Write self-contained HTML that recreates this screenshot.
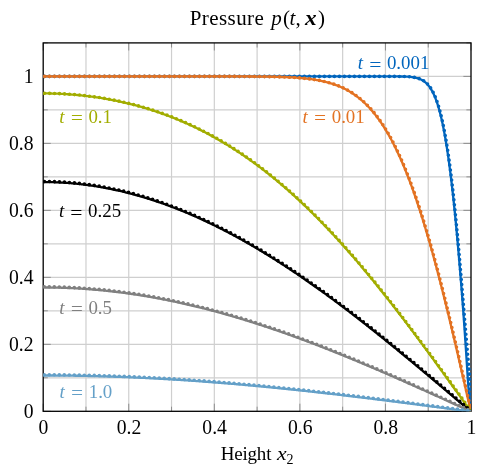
<!DOCTYPE html>
<html><head><meta charset="utf-8"><title>Pressure</title>
<style>
html,body{margin:0;padding:0;background:#fff;}
svg{display:block;will-change:transform;}
text{font-family:"Liberation Serif",serif;}
</style></head><body>
<svg width="485" height="474" viewBox="0 0 485 474">
<rect width="485" height="474" fill="#fff"/>
<g stroke="#cfcfcf" stroke-width="1.2"><line x1="85.98" y1="42.90" x2="85.98" y2="411.30"/><line x1="128.76" y1="42.90" x2="128.76" y2="411.30"/><line x1="171.54" y1="42.90" x2="171.54" y2="411.30"/><line x1="214.32" y1="42.90" x2="214.32" y2="411.30"/><line x1="257.10" y1="42.90" x2="257.10" y2="411.30"/><line x1="299.88" y1="42.90" x2="299.88" y2="411.30"/><line x1="342.66" y1="42.90" x2="342.66" y2="411.30"/><line x1="385.44" y1="42.90" x2="385.44" y2="411.30"/><line x1="428.22" y1="42.90" x2="428.22" y2="411.30"/><line x1="43.20" y1="377.81" x2="471.00" y2="377.81"/><line x1="43.20" y1="344.32" x2="471.00" y2="344.32"/><line x1="43.20" y1="310.83" x2="471.00" y2="310.83"/><line x1="43.20" y1="277.34" x2="471.00" y2="277.34"/><line x1="43.20" y1="243.85" x2="471.00" y2="243.85"/><line x1="43.20" y1="210.35" x2="471.00" y2="210.35"/><line x1="43.20" y1="176.86" x2="471.00" y2="176.86"/><line x1="43.20" y1="143.37" x2="471.00" y2="143.37"/><line x1="43.20" y1="109.88" x2="471.00" y2="109.88"/><line x1="43.20" y1="76.39" x2="471.00" y2="76.39"/></g>
<g stroke="#777" stroke-width="0.75"><line x1="43.20" y1="411.30" x2="43.20" y2="403.70"/><line x1="43.20" y1="42.90" x2="43.20" y2="50.50"/><line x1="85.98" y1="411.30" x2="85.98" y2="406.70"/><line x1="85.98" y1="42.90" x2="85.98" y2="47.50"/><line x1="128.76" y1="411.30" x2="128.76" y2="403.70"/><line x1="128.76" y1="42.90" x2="128.76" y2="50.50"/><line x1="171.54" y1="411.30" x2="171.54" y2="406.70"/><line x1="171.54" y1="42.90" x2="171.54" y2="47.50"/><line x1="214.32" y1="411.30" x2="214.32" y2="403.70"/><line x1="214.32" y1="42.90" x2="214.32" y2="50.50"/><line x1="257.10" y1="411.30" x2="257.10" y2="406.70"/><line x1="257.10" y1="42.90" x2="257.10" y2="47.50"/><line x1="299.88" y1="411.30" x2="299.88" y2="403.70"/><line x1="299.88" y1="42.90" x2="299.88" y2="50.50"/><line x1="342.66" y1="411.30" x2="342.66" y2="406.70"/><line x1="342.66" y1="42.90" x2="342.66" y2="47.50"/><line x1="385.44" y1="411.30" x2="385.44" y2="403.70"/><line x1="385.44" y1="42.90" x2="385.44" y2="50.50"/><line x1="428.22" y1="411.30" x2="428.22" y2="406.70"/><line x1="428.22" y1="42.90" x2="428.22" y2="47.50"/><line x1="471.00" y1="411.30" x2="471.00" y2="403.70"/><line x1="471.00" y1="42.90" x2="471.00" y2="50.50"/><line x1="43.20" y1="411.30" x2="50.80" y2="411.30"/><line x1="471.00" y1="411.30" x2="463.40" y2="411.30"/><line x1="43.20" y1="377.81" x2="47.80" y2="377.81"/><line x1="471.00" y1="377.81" x2="466.40" y2="377.81"/><line x1="43.20" y1="344.32" x2="50.80" y2="344.32"/><line x1="471.00" y1="344.32" x2="463.40" y2="344.32"/><line x1="43.20" y1="310.83" x2="47.80" y2="310.83"/><line x1="471.00" y1="310.83" x2="466.40" y2="310.83"/><line x1="43.20" y1="277.34" x2="50.80" y2="277.34"/><line x1="471.00" y1="277.34" x2="463.40" y2="277.34"/><line x1="43.20" y1="243.85" x2="47.80" y2="243.85"/><line x1="471.00" y1="243.85" x2="466.40" y2="243.85"/><line x1="43.20" y1="210.35" x2="50.80" y2="210.35"/><line x1="471.00" y1="210.35" x2="463.40" y2="210.35"/><line x1="43.20" y1="176.86" x2="47.80" y2="176.86"/><line x1="471.00" y1="176.86" x2="466.40" y2="176.86"/><line x1="43.20" y1="143.37" x2="50.80" y2="143.37"/><line x1="471.00" y1="143.37" x2="463.40" y2="143.37"/><line x1="43.20" y1="109.88" x2="47.80" y2="109.88"/><line x1="471.00" y1="109.88" x2="466.40" y2="109.88"/><line x1="43.20" y1="76.39" x2="50.80" y2="76.39"/><line x1="471.00" y1="76.39" x2="463.40" y2="76.39"/><line x1="43.20" y1="42.90" x2="47.80" y2="42.90"/><line x1="471.00" y1="42.90" x2="466.40" y2="42.90"/></g>
<rect x="43.20" y="42.90" width="427.80" height="368.40" fill="none" stroke="#000" stroke-width="1.3"/>
<defs><clipPath id="c"><rect x="43.20" y="42.90" width="427.80" height="368.40"/></clipPath></defs>
<g fill="none" stroke-linejoin="round" clip-path="url(#c)">
<path d="M42.90 76.39 L43.97 76.39 L45.04 76.39 L46.11 76.39 L47.18 76.39 L48.25 76.39 L49.32 76.39 L50.39 76.39 L51.46 76.39 L52.53 76.39 L53.59 76.39 L54.66 76.39 L55.73 76.39 L56.80 76.39 L57.87 76.39 L58.94 76.39 L60.01 76.39 L61.08 76.39 L62.15 76.39 L63.22 76.39 L64.29 76.39 L65.36 76.39 L66.43 76.39 L67.50 76.39 L68.57 76.39 L69.64 76.39 L70.71 76.39 L71.78 76.39 L72.85 76.39 L73.92 76.39 L74.98 76.39 L76.05 76.39 L77.12 76.39 L78.19 76.39 L79.26 76.39 L80.33 76.39 L81.40 76.39 L82.47 76.39 L83.54 76.39 L84.61 76.39 L85.68 76.39 L86.75 76.39 L87.82 76.39 L88.89 76.39 L89.96 76.39 L91.03 76.39 L92.10 76.39 L93.17 76.39 L94.24 76.39 L95.31 76.39 L96.37 76.39 L97.44 76.39 L98.51 76.39 L99.58 76.39 L100.65 76.39 L101.72 76.39 L102.79 76.39 L103.86 76.39 L104.93 76.39 L106.00 76.39 L107.07 76.39 L108.14 76.39 L109.21 76.39 L110.28 76.39 L111.35 76.39 L112.42 76.39 L113.49 76.39 L114.56 76.39 L115.63 76.39 L116.70 76.39 L117.76 76.39 L118.83 76.39 L119.90 76.39 L120.97 76.39 L122.04 76.39 L123.11 76.39 L124.18 76.39 L125.25 76.39 L126.32 76.39 L127.39 76.39 L128.46 76.39 L129.53 76.39 L130.60 76.39 L131.67 76.39 L132.74 76.39 L133.81 76.39 L134.88 76.39 L135.95 76.39 L137.02 76.39 L138.09 76.39 L139.15 76.39 L140.22 76.39 L141.29 76.39 L142.36 76.39 L143.43 76.39 L144.50 76.39 L145.57 76.39 L146.64 76.39 L147.71 76.39 L148.78 76.39 L149.85 76.39 L150.92 76.39 L151.99 76.39 L153.06 76.39 L154.13 76.39 L155.20 76.39 L156.27 76.39 L157.34 76.39 L158.41 76.39 L159.48 76.39 L160.54 76.39 L161.61 76.39 L162.68 76.39 L163.75 76.39 L164.82 76.39 L165.89 76.39 L166.96 76.39 L168.03 76.39 L169.10 76.39 L170.17 76.39 L171.24 76.39 L172.31 76.39 L173.38 76.39 L174.45 76.39 L175.52 76.39 L176.59 76.39 L177.66 76.39 L178.73 76.39 L179.80 76.39 L180.87 76.39 L181.93 76.39 L183.00 76.39 L184.07 76.39 L185.14 76.39 L186.21 76.39 L187.28 76.39 L188.35 76.39 L189.42 76.39 L190.49 76.39 L191.56 76.39 L192.63 76.39 L193.70 76.39 L194.77 76.39 L195.84 76.39 L196.91 76.39 L197.98 76.39 L199.05 76.39 L200.12 76.39 L201.19 76.39 L202.26 76.39 L203.32 76.39 L204.39 76.39 L205.46 76.39 L206.53 76.39 L207.60 76.39 L208.67 76.39 L209.74 76.39 L210.81 76.39 L211.88 76.39 L212.95 76.39 L214.02 76.39 L215.09 76.39 L216.16 76.39 L217.23 76.39 L218.30 76.39 L219.37 76.39 L220.44 76.39 L221.51 76.39 L222.58 76.39 L223.65 76.39 L224.71 76.39 L225.78 76.39 L226.85 76.39 L227.92 76.39 L228.99 76.39 L230.06 76.39 L231.13 76.39 L232.20 76.39 L233.27 76.39 L234.34 76.39 L235.41 76.39 L236.48 76.39 L237.55 76.39 L238.62 76.39 L239.69 76.39 L240.76 76.39 L241.83 76.39 L242.90 76.39 L243.97 76.39 L245.04 76.39 L246.10 76.39 L247.17 76.39 L248.24 76.39 L249.31 76.39 L250.38 76.39 L251.45 76.39 L252.52 76.39 L253.59 76.39 L254.66 76.39 L255.73 76.39 L256.80 76.39 L257.87 76.39 L258.94 76.39 L260.01 76.39 L261.08 76.39 L262.15 76.39 L263.22 76.39 L264.29 76.39 L265.36 76.39 L266.43 76.39 L267.49 76.39 L268.56 76.39 L269.63 76.39 L270.70 76.39 L271.77 76.39 L272.84 76.39 L273.91 76.39 L274.98 76.39 L276.05 76.39 L277.12 76.39 L278.19 76.39 L279.26 76.39 L280.33 76.39 L281.40 76.39 L282.47 76.39 L283.54 76.39 L284.61 76.39 L285.68 76.39 L286.75 76.39 L287.82 76.39 L288.88 76.39 L289.95 76.39 L291.02 76.39 L292.09 76.39 L293.16 76.39 L294.23 76.39 L295.30 76.39 L296.37 76.39 L297.44 76.39 L298.51 76.39 L299.58 76.39 L300.65 76.39 L301.72 76.39 L302.79 76.39 L303.86 76.39 L304.93 76.39 L306.00 76.39 L307.07 76.39 L308.14 76.39 L309.21 76.39 L310.27 76.39 L311.34 76.39 L312.41 76.39 L313.48 76.39 L314.55 76.39 L315.62 76.39 L316.69 76.39 L317.76 76.39 L318.83 76.39 L319.90 76.39 L320.97 76.39 L322.04 76.39 L323.11 76.39 L324.18 76.39 L325.25 76.39 L326.32 76.39 L327.39 76.39 L328.46 76.39 L329.53 76.39 L330.60 76.39 L331.66 76.39 L332.73 76.39 L333.80 76.39 L334.87 76.39 L335.94 76.39 L337.01 76.39 L338.08 76.39 L339.15 76.39 L340.22 76.39 L341.29 76.39 L342.36 76.39 L343.43 76.39 L344.50 76.39 L345.57 76.39 L346.64 76.39 L347.71 76.39 L348.78 76.39 L349.85 76.39 L350.92 76.39 L351.99 76.39 L353.05 76.39 L354.12 76.39 L355.19 76.39 L356.26 76.39 L357.33 76.39 L358.40 76.39 L359.47 76.39 L360.54 76.39 L361.61 76.39 L362.68 76.39 L363.75 76.39 L364.82 76.39 L365.89 76.39 L366.96 76.39 L368.03 76.39 L369.10 76.39 L370.17 76.39 L371.24 76.39 L372.31 76.39 L373.38 76.39 L374.44 76.39 L375.51 76.39 L376.58 76.39 L377.65 76.39 L378.72 76.39 L379.79 76.39 L380.86 76.39 L381.93 76.39 L383.00 76.39 L384.07 76.39 L385.14 76.39 L386.21 76.39 L387.28 76.40 L388.35 76.40 L389.42 76.40 L390.49 76.40 L391.56 76.40 L392.63 76.41 L393.70 76.41 L394.77 76.42 L395.83 76.42 L396.90 76.43 L397.97 76.44 L399.04 76.45 L400.11 76.47 L401.18 76.48 L402.25 76.51 L403.32 76.53 L404.39 76.57 L405.46 76.61 L406.53 76.66 L407.60 76.72 L408.67 76.79 L409.74 76.87 L410.81 76.98 L411.88 77.10 L412.95 77.24 L414.02 77.41 L415.09 77.61 L416.16 77.85 L417.22 78.13 L418.29 78.45 L419.36 78.83 L420.43 79.27 L421.50 79.78 L422.57 80.37 L423.64 81.05 L424.71 81.83 L425.78 82.71 L426.85 83.73 L427.92 84.88 L428.99 86.19 L430.06 87.66 L431.13 89.32 L432.20 91.18 L433.27 93.27 L434.34 95.60 L435.41 98.18 L436.48 101.05 L437.55 104.22 L438.61 107.72 L439.68 111.55 L440.75 115.75 L441.82 120.33 L442.89 125.32 L443.96 130.73 L445.03 136.58 L446.10 142.88 L447.17 149.65 L448.24 156.91 L449.31 164.66 L450.38 172.90 L451.45 181.65 L452.52 190.91 L453.59 200.67 L454.65 210.94 L455.72 221.69 L456.79 232.93 L457.86 244.63 L458.92 256.78 L459.98 269.35 L461.04 282.32 L462.09 295.66 L463.12 309.34 L464.14 323.32 L465.13 337.57 L466.09 352.04 L467.03 366.70 L467.98 381.49 L469.08 396.37 L470.70 411.30" stroke="#0065BD" stroke-width="2.3"/>
<path d="M43.30 76.39 L44.37 76.39 L45.44 76.39 L46.51 76.39 L47.58 76.39 L48.65 76.39 L49.72 76.39 L50.79 76.39 L51.86 76.39 L52.93 76.39 L54.00 76.39 L55.06 76.39 L56.13 76.39 L57.20 76.39 L58.27 76.39 L59.34 76.39 L60.41 76.39 L61.48 76.39 L62.55 76.39 L63.62 76.39 L64.69 76.39 L65.76 76.39 L66.83 76.39 L67.90 76.39 L68.97 76.39 L70.04 76.39 L71.11 76.39 L72.18 76.39 L73.25 76.39 L74.32 76.39 L75.39 76.39 L76.45 76.39 L77.52 76.39 L78.59 76.39 L79.66 76.39 L80.73 76.39 L81.80 76.39 L82.87 76.39 L83.94 76.39 L85.01 76.39 L86.08 76.39 L87.15 76.39 L88.22 76.39 L89.29 76.39 L90.36 76.39 L91.43 76.39 L92.50 76.39 L93.57 76.39 L94.64 76.39 L95.71 76.39 L96.78 76.39 L97.84 76.39 L98.91 76.39 L99.98 76.39 L101.05 76.39 L102.12 76.39 L103.19 76.39 L104.26 76.39 L105.33 76.39 L106.40 76.39 L107.47 76.39 L108.54 76.39 L109.61 76.39 L110.68 76.39 L111.75 76.39 L112.82 76.39 L113.89 76.39 L114.96 76.39 L116.03 76.39 L117.10 76.39 L118.17 76.39 L119.23 76.39 L120.30 76.39 L121.37 76.39 L122.44 76.39 L123.51 76.39 L124.58 76.39 L125.65 76.39 L126.72 76.39 L127.79 76.39 L128.86 76.39 L129.93 76.39 L131.00 76.39 L132.07 76.39 L133.14 76.39 L134.21 76.39 L135.28 76.39 L136.35 76.39 L137.42 76.39 L138.49 76.39 L139.56 76.39 L140.62 76.39 L141.69 76.39 L142.76 76.39 L143.83 76.39 L144.90 76.39 L145.97 76.39 L147.04 76.39 L148.11 76.39 L149.18 76.39 L150.25 76.39 L151.32 76.39 L152.39 76.39 L153.46 76.39 L154.53 76.39 L155.60 76.39 L156.67 76.39 L157.74 76.39 L158.81 76.39 L159.88 76.39 L160.95 76.39 L162.01 76.39 L163.08 76.39 L164.15 76.39 L165.22 76.39 L166.29 76.39 L167.36 76.39 L168.43 76.39 L169.50 76.39 L170.57 76.39 L171.64 76.39 L172.71 76.39 L173.78 76.39 L174.85 76.39 L175.92 76.39 L176.99 76.39 L178.06 76.39 L179.13 76.39 L180.20 76.39 L181.27 76.39 L182.34 76.39 L183.40 76.39 L184.47 76.39 L185.54 76.39 L186.61 76.39 L187.68 76.39 L188.75 76.39 L189.82 76.39 L190.89 76.39 L191.96 76.39 L193.03 76.39 L194.10 76.39 L195.17 76.39 L196.24 76.39 L197.31 76.39 L198.38 76.39 L199.45 76.39 L200.52 76.39 L201.59 76.39 L202.66 76.39 L203.73 76.39 L204.79 76.39 L205.86 76.39 L206.93 76.39 L208.00 76.39 L209.07 76.39 L210.14 76.39 L211.21 76.39 L212.28 76.39 L213.35 76.39 L214.42 76.39 L215.49 76.39 L216.56 76.39 L217.63 76.39 L218.70 76.39 L219.77 76.39 L220.84 76.39 L221.91 76.39 L222.98 76.39 L224.05 76.39 L225.12 76.39 L226.18 76.39 L227.25 76.39 L228.32 76.39 L229.39 76.39 L230.46 76.39 L231.53 76.39 L232.60 76.39 L233.67 76.39 L234.74 76.39 L235.81 76.39 L236.88 76.39 L237.95 76.39 L239.02 76.39 L240.09 76.39 L241.16 76.39 L242.23 76.39 L243.30 76.39 L244.37 76.39 L245.44 76.39 L246.51 76.39 L247.57 76.39 L248.64 76.39 L249.71 76.39 L250.78 76.39 L251.85 76.39 L252.92 76.39 L253.99 76.39 L255.06 76.39 L256.13 76.39 L257.20 76.39 L258.27 76.39 L259.34 76.39 L260.41 76.39 L261.48 76.39 L262.55 76.39 L263.62 76.39 L264.69 76.39 L265.76 76.39 L266.83 76.39 L267.90 76.39 L268.96 76.39 L270.03 76.39 L271.10 76.39 L272.17 76.39 L273.24 76.39 L274.31 76.39 L275.38 76.39 L276.45 76.39 L277.52 76.39 L278.59 76.39 L279.66 76.39 L280.73 76.39 L281.80 76.39 L282.87 76.39 L283.94 76.39 L285.01 76.39 L286.08 76.39 L287.15 76.39 L288.22 76.39 L289.29 76.39 L290.35 76.39 L291.42 76.39 L292.49 76.39 L293.56 76.39 L294.63 76.39 L295.70 76.39 L296.77 76.39 L297.84 76.39 L298.91 76.39 L299.98 76.39 L301.05 76.39 L302.12 76.39 L303.19 76.39 L304.26 76.39 L305.33 76.39 L306.40 76.39 L307.47 76.39 L308.54 76.39 L309.61 76.39 L310.68 76.39 L311.74 76.39 L312.81 76.39 L313.88 76.39 L314.95 76.39 L316.02 76.39 L317.09 76.39 L318.16 76.39 L319.23 76.39 L320.30 76.39 L321.37 76.39 L322.44 76.39 L323.51 76.39 L324.58 76.39 L325.65 76.39 L326.72 76.39 L327.79 76.39 L328.86 76.39 L329.93 76.39 L331.00 76.39 L332.07 76.39 L333.13 76.39 L334.20 76.39 L335.27 76.39 L336.34 76.39 L337.41 76.39 L338.48 76.39 L339.55 76.39 L340.62 76.39 L341.69 76.39 L342.76 76.39 L343.83 76.39 L344.90 76.39 L345.97 76.39 L347.04 76.39 L348.11 76.39 L349.18 76.39 L350.25 76.39 L351.32 76.39 L352.39 76.39 L353.46 76.39 L354.52 76.39 L355.59 76.39 L356.66 76.39 L357.73 76.39 L358.80 76.39 L359.87 76.39 L360.94 76.39 L362.01 76.39 L363.08 76.39 L364.15 76.39 L365.22 76.39 L366.29 76.39 L367.36 76.39 L368.43 76.39 L369.50 76.39 L370.57 76.39 L371.64 76.39 L372.71 76.39 L373.78 76.39 L374.85 76.39 L375.91 76.39 L376.98 76.39 L378.05 76.39 L379.12 76.39 L380.19 76.39 L381.26 76.39 L382.33 76.39 L383.40 76.39 L384.47 76.39 L385.54 76.39 L386.61 76.39 L387.68 76.40 L388.75 76.40 L389.82 76.40 L390.89 76.40 L391.96 76.40 L393.03 76.41 L394.10 76.41 L395.17 76.42 L396.24 76.42 L397.30 76.43 L398.37 76.44 L399.44 76.45 L400.51 76.47 L401.58 76.48 L402.65 76.51 L403.72 76.53 L404.79 76.57 L405.86 76.61 L406.93 76.66 L408.00 76.72 L409.07 76.79 L410.14 76.87 L411.21 76.98 L412.28 77.10 L413.35 77.24 L414.42 77.41 L415.49 77.61 L416.56 77.85 L417.63 78.13 L418.69 78.45 L419.76 78.83 L420.83 79.27 L421.90 79.78 L422.97 80.37 L424.04 81.05 L425.11 81.83 L426.18 82.71 L427.25 83.73 L428.32 84.88 L429.39 86.19 L430.46 87.66 L431.53 89.32 L432.60 91.18 L433.67 93.27 L434.74 95.60 L435.81 98.18 L436.88 101.05 L437.95 104.22 L439.02 107.72 L440.08 111.55 L441.15 115.75 L442.22 120.33 L443.29 125.32 L444.36 130.73 L445.43 136.58 L446.50 142.88 L447.57 149.65 L448.64 156.91 L449.71 164.66 L450.78 172.90 L451.85 181.65 L452.92 190.91 L453.99 200.67 L455.06 210.94 L456.13 221.69 L457.21 232.93 L458.28 244.63 L459.36 256.78 L460.45 269.35 L461.54 282.32 L462.65 295.66 L463.78 309.34 L464.95 323.32 L466.16 337.57 L467.43 352.04 L468.74 366.70 L470.03 381.49 L471.04 396.37 L471.10 411.30" stroke="#0065BD" stroke-width="3.6" stroke-linecap="round" stroke-dasharray="0 5" stroke-dashoffset="-1.1"/>
<path d="M42.95 76.39 L44.02 76.39 L45.09 76.39 L46.16 76.39 L47.23 76.39 L48.30 76.39 L49.37 76.39 L50.44 76.39 L51.51 76.39 L52.58 76.39 L53.65 76.39 L54.71 76.39 L55.78 76.39 L56.85 76.39 L57.92 76.39 L58.99 76.39 L60.06 76.39 L61.13 76.39 L62.20 76.39 L63.27 76.39 L64.34 76.39 L65.41 76.39 L66.48 76.39 L67.55 76.39 L68.62 76.39 L69.69 76.39 L70.76 76.39 L71.83 76.39 L72.90 76.39 L73.97 76.39 L75.03 76.39 L76.10 76.39 L77.17 76.39 L78.24 76.39 L79.31 76.39 L80.38 76.39 L81.45 76.39 L82.52 76.39 L83.59 76.39 L84.66 76.39 L85.73 76.39 L86.80 76.39 L87.87 76.39 L88.94 76.39 L90.01 76.39 L91.08 76.39 L92.15 76.39 L93.22 76.39 L94.29 76.39 L95.36 76.39 L96.43 76.39 L97.49 76.39 L98.56 76.39 L99.63 76.39 L100.70 76.39 L101.77 76.39 L102.84 76.39 L103.91 76.39 L104.98 76.39 L106.05 76.39 L107.12 76.39 L108.19 76.39 L109.26 76.39 L110.33 76.39 L111.40 76.39 L112.47 76.39 L113.54 76.39 L114.61 76.39 L115.68 76.39 L116.75 76.39 L117.82 76.39 L118.88 76.39 L119.95 76.39 L121.02 76.39 L122.09 76.39 L123.16 76.39 L124.23 76.39 L125.30 76.39 L126.37 76.39 L127.44 76.39 L128.51 76.39 L129.58 76.39 L130.65 76.39 L131.72 76.39 L132.79 76.39 L133.86 76.39 L134.93 76.39 L136.00 76.39 L137.07 76.39 L138.14 76.39 L139.21 76.39 L140.27 76.39 L141.34 76.39 L142.41 76.39 L143.48 76.39 L144.55 76.39 L145.62 76.39 L146.69 76.39 L147.76 76.39 L148.83 76.39 L149.90 76.39 L150.97 76.39 L152.04 76.39 L153.11 76.39 L154.18 76.39 L155.25 76.39 L156.32 76.39 L157.39 76.39 L158.46 76.39 L159.53 76.39 L160.60 76.39 L161.66 76.39 L162.73 76.39 L163.80 76.39 L164.87 76.39 L165.94 76.39 L167.01 76.39 L168.08 76.39 L169.15 76.39 L170.22 76.39 L171.29 76.39 L172.36 76.39 L173.43 76.39 L174.50 76.39 L175.57 76.39 L176.64 76.39 L177.71 76.39 L178.78 76.39 L179.85 76.39 L180.92 76.39 L181.99 76.39 L183.05 76.39 L184.12 76.39 L185.19 76.39 L186.26 76.39 L187.33 76.39 L188.40 76.39 L189.47 76.39 L190.54 76.39 L191.61 76.39 L192.68 76.39 L193.75 76.39 L194.82 76.39 L195.89 76.39 L196.96 76.39 L198.03 76.39 L199.10 76.39 L200.17 76.39 L201.24 76.39 L202.31 76.39 L203.38 76.39 L204.44 76.39 L205.51 76.39 L206.58 76.40 L207.65 76.40 L208.72 76.40 L209.79 76.40 L210.86 76.40 L211.93 76.40 L213.00 76.40 L214.07 76.40 L215.14 76.40 L216.21 76.40 L217.28 76.40 L218.35 76.40 L219.42 76.40 L220.49 76.40 L221.56 76.40 L222.63 76.40 L223.70 76.41 L224.76 76.41 L225.83 76.41 L226.90 76.41 L227.97 76.41 L229.04 76.41 L230.11 76.41 L231.18 76.42 L232.25 76.42 L233.32 76.42 L234.39 76.42 L235.46 76.42 L236.53 76.43 L237.60 76.43 L238.67 76.43 L239.74 76.44 L240.81 76.44 L241.88 76.44 L242.95 76.45 L244.02 76.45 L245.09 76.46 L246.16 76.46 L247.22 76.46 L248.29 76.47 L249.36 76.48 L250.43 76.48 L251.50 76.49 L252.57 76.49 L253.64 76.50 L254.71 76.51 L255.78 76.52 L256.85 76.53 L257.92 76.54 L258.99 76.55 L260.06 76.56 L261.13 76.57 L262.20 76.58 L263.27 76.59 L264.34 76.61 L265.41 76.62 L266.48 76.64 L267.55 76.65 L268.61 76.67 L269.68 76.69 L270.75 76.71 L271.82 76.73 L272.89 76.75 L273.96 76.77 L275.03 76.80 L276.10 76.82 L277.17 76.85 L278.24 76.88 L279.31 76.91 L280.38 76.94 L281.45 76.98 L282.52 77.01 L283.59 77.05 L284.66 77.09 L285.73 77.14 L286.80 77.18 L287.87 77.23 L288.94 77.28 L290.00 77.33 L291.07 77.39 L292.14 77.45 L293.21 77.51 L294.28 77.58 L295.35 77.64 L296.42 77.72 L297.49 77.79 L298.56 77.87 L299.63 77.96 L300.70 78.05 L301.77 78.14 L302.84 78.24 L303.91 78.34 L304.98 78.45 L306.05 78.56 L307.12 78.68 L308.19 78.81 L309.26 78.94 L310.32 79.07 L311.39 79.22 L312.46 79.37 L313.53 79.53 L314.60 79.69 L315.67 79.86 L316.74 80.04 L317.81 80.23 L318.88 80.43 L319.95 80.64 L321.02 80.85 L322.09 81.08 L323.16 81.32 L324.23 81.56 L325.30 81.82 L326.37 82.09 L327.44 82.37 L328.51 82.66 L329.58 82.96 L330.65 83.28 L331.72 83.61 L332.78 83.95 L333.85 84.31 L334.92 84.68 L335.99 85.07 L337.06 85.48 L338.13 85.89 L339.20 86.33 L340.27 86.78 L341.34 87.25 L342.41 87.74 L343.48 88.25 L344.55 88.78 L345.62 89.32 L346.69 89.89 L347.76 90.48 L348.83 91.09 L349.90 91.72 L350.97 92.37 L352.04 93.05 L353.10 93.75 L354.17 94.47 L355.24 95.23 L356.31 96.00 L357.38 96.80 L358.45 97.63 L359.52 98.49 L360.59 99.38 L361.66 100.29 L362.73 101.24 L363.80 102.21 L364.87 103.22 L365.94 104.26 L367.01 105.33 L368.08 106.43 L369.15 107.56 L370.22 108.73 L371.29 109.94 L372.36 111.18 L373.43 112.46 L374.50 113.77 L375.56 115.12 L376.63 116.51 L377.70 117.94 L378.77 119.41 L379.84 120.91 L380.91 122.46 L381.98 124.05 L383.05 125.68 L384.12 127.36 L385.19 129.07 L386.26 130.83 L387.33 132.64 L388.40 134.48 L389.47 136.38 L390.54 138.31 L391.61 140.30 L392.68 142.33 L393.75 144.41 L394.82 146.53 L395.89 148.71 L396.95 150.93 L398.02 153.20 L399.09 155.51 L400.16 157.88 L401.23 160.30 L402.30 162.76 L403.37 165.28 L404.44 167.85 L405.51 170.46 L406.58 173.13 L407.65 175.84 L408.72 178.61 L409.79 181.43 L410.86 184.30 L411.93 187.22 L413.00 190.19 L414.07 193.21 L415.14 196.28 L416.21 199.40 L417.27 202.57 L418.34 205.79 L419.41 209.06 L420.48 212.38 L421.55 215.75 L422.62 219.17 L423.69 222.64 L424.76 226.15 L425.83 229.71 L426.90 233.32 L427.97 236.98 L429.04 240.68 L430.11 244.43 L431.18 248.22 L432.25 252.06 L433.32 255.94 L434.39 259.86 L435.46 263.82 L436.53 267.83 L437.60 271.87 L438.67 275.96 L439.73 280.08 L440.80 284.24 L441.87 288.44 L442.94 292.67 L444.01 296.94 L445.08 301.24 L446.15 305.57 L447.22 309.94 L448.29 314.33 L449.36 318.76 L450.43 323.21 L451.50 327.68 L452.57 332.19 L453.64 336.71 L454.71 341.26 L455.78 345.84 L456.85 350.43 L457.92 355.04 L458.99 359.66 L460.06 364.31 L461.12 368.96 L462.19 373.64 L463.26 378.32 L464.33 383.01 L465.40 387.71 L466.47 392.42 L467.54 397.14 L468.61 401.85 L469.68 406.58 L470.75 411.30" stroke="#E37222" stroke-width="2.3"/>
<path d="M43.40 76.39 L44.47 76.39 L45.54 76.39 L46.61 76.39 L47.68 76.39 L48.75 76.39 L49.82 76.39 L50.89 76.39 L51.96 76.39 L53.03 76.39 L54.10 76.39 L55.16 76.39 L56.23 76.39 L57.30 76.39 L58.37 76.39 L59.44 76.39 L60.51 76.39 L61.58 76.39 L62.65 76.39 L63.72 76.39 L64.79 76.39 L65.86 76.39 L66.93 76.39 L68.00 76.39 L69.07 76.39 L70.14 76.39 L71.21 76.39 L72.28 76.39 L73.35 76.39 L74.42 76.39 L75.48 76.39 L76.55 76.39 L77.62 76.39 L78.69 76.39 L79.76 76.39 L80.83 76.39 L81.90 76.39 L82.97 76.39 L84.04 76.39 L85.11 76.39 L86.18 76.39 L87.25 76.39 L88.32 76.39 L89.39 76.39 L90.46 76.39 L91.53 76.39 L92.60 76.39 L93.67 76.39 L94.74 76.39 L95.81 76.39 L96.88 76.39 L97.94 76.39 L99.01 76.39 L100.08 76.39 L101.15 76.39 L102.22 76.39 L103.29 76.39 L104.36 76.39 L105.43 76.39 L106.50 76.39 L107.57 76.39 L108.64 76.39 L109.71 76.39 L110.78 76.39 L111.85 76.39 L112.92 76.39 L113.99 76.39 L115.06 76.39 L116.13 76.39 L117.20 76.39 L118.27 76.39 L119.33 76.39 L120.40 76.39 L121.47 76.39 L122.54 76.39 L123.61 76.39 L124.68 76.39 L125.75 76.39 L126.82 76.39 L127.89 76.39 L128.96 76.39 L130.03 76.39 L131.10 76.39 L132.17 76.39 L133.24 76.39 L134.31 76.39 L135.38 76.39 L136.45 76.39 L137.52 76.39 L138.59 76.39 L139.66 76.39 L140.72 76.39 L141.79 76.39 L142.86 76.39 L143.93 76.39 L145.00 76.39 L146.07 76.39 L147.14 76.39 L148.21 76.39 L149.28 76.39 L150.35 76.39 L151.42 76.39 L152.49 76.39 L153.56 76.39 L154.63 76.39 L155.70 76.39 L156.77 76.39 L157.84 76.39 L158.91 76.39 L159.98 76.39 L161.05 76.39 L162.11 76.39 L163.18 76.39 L164.25 76.39 L165.32 76.39 L166.39 76.39 L167.46 76.39 L168.53 76.39 L169.60 76.39 L170.67 76.39 L171.74 76.39 L172.81 76.39 L173.88 76.39 L174.95 76.39 L176.02 76.39 L177.09 76.39 L178.16 76.39 L179.23 76.39 L180.30 76.39 L181.37 76.39 L182.44 76.39 L183.50 76.39 L184.57 76.39 L185.64 76.39 L186.71 76.39 L187.78 76.39 L188.85 76.39 L189.92 76.39 L190.99 76.39 L192.06 76.39 L193.13 76.39 L194.20 76.39 L195.27 76.39 L196.34 76.39 L197.41 76.39 L198.48 76.39 L199.55 76.39 L200.62 76.39 L201.69 76.39 L202.76 76.39 L203.82 76.39 L204.89 76.39 L205.96 76.39 L207.03 76.40 L208.10 76.40 L209.17 76.40 L210.24 76.40 L211.31 76.40 L212.38 76.40 L213.45 76.40 L214.52 76.40 L215.59 76.40 L216.66 76.40 L217.73 76.40 L218.80 76.40 L219.87 76.40 L220.94 76.40 L222.01 76.40 L223.08 76.40 L224.15 76.41 L225.21 76.41 L226.28 76.41 L227.35 76.41 L228.42 76.41 L229.49 76.41 L230.56 76.41 L231.63 76.42 L232.70 76.42 L233.77 76.42 L234.84 76.42 L235.91 76.42 L236.98 76.43 L238.05 76.43 L239.12 76.43 L240.19 76.44 L241.26 76.44 L242.33 76.44 L243.40 76.45 L244.47 76.45 L245.54 76.46 L246.61 76.46 L247.67 76.46 L248.74 76.47 L249.81 76.48 L250.88 76.48 L251.95 76.49 L253.02 76.49 L254.09 76.50 L255.16 76.51 L256.23 76.52 L257.30 76.53 L258.37 76.54 L259.44 76.55 L260.51 76.56 L261.58 76.57 L262.65 76.58 L263.72 76.59 L264.79 76.61 L265.86 76.62 L266.93 76.64 L268.00 76.65 L269.06 76.67 L270.13 76.69 L271.20 76.71 L272.27 76.73 L273.34 76.75 L274.41 76.77 L275.48 76.80 L276.55 76.82 L277.62 76.85 L278.69 76.88 L279.76 76.91 L280.83 76.94 L281.90 76.98 L282.97 77.01 L284.04 77.05 L285.11 77.09 L286.18 77.14 L287.25 77.18 L288.32 77.23 L289.39 77.28 L290.45 77.33 L291.52 77.39 L292.59 77.45 L293.66 77.51 L294.73 77.58 L295.80 77.64 L296.87 77.72 L297.94 77.79 L299.01 77.87 L300.08 77.96 L301.15 78.05 L302.22 78.14 L303.29 78.24 L304.36 78.34 L305.43 78.45 L306.50 78.56 L307.57 78.68 L308.64 78.81 L309.71 78.94 L310.77 79.07 L311.84 79.22 L312.91 79.37 L313.98 79.53 L315.05 79.69 L316.12 79.86 L317.19 80.04 L318.26 80.23 L319.33 80.43 L320.40 80.64 L321.47 80.85 L322.54 81.08 L323.61 81.32 L324.68 81.56 L325.75 81.82 L326.82 82.09 L327.89 82.37 L328.96 82.66 L330.03 82.96 L331.10 83.28 L332.17 83.61 L333.23 83.95 L334.30 84.31 L335.37 84.68 L336.44 85.07 L337.51 85.48 L338.58 85.89 L339.65 86.33 L340.72 86.78 L341.79 87.25 L342.86 87.74 L343.93 88.25 L345.00 88.78 L346.07 89.32 L347.14 89.89 L348.21 90.48 L349.28 91.09 L350.35 91.72 L351.42 92.37 L352.49 93.05 L353.55 93.75 L354.62 94.47 L355.69 95.23 L356.76 96.00 L357.83 96.80 L358.90 97.63 L359.97 98.49 L361.04 99.38 L362.11 100.29 L363.18 101.24 L364.25 102.21 L365.32 103.22 L366.39 104.26 L367.46 105.33 L368.53 106.43 L369.60 107.56 L370.67 108.73 L371.74 109.94 L372.81 111.18 L373.88 112.46 L374.94 113.77 L376.01 115.12 L377.08 116.51 L378.15 117.94 L379.22 119.41 L380.29 120.91 L381.36 122.46 L382.43 124.05 L383.50 125.68 L384.57 127.36 L385.64 129.07 L386.71 130.83 L387.78 132.64 L388.85 134.48 L389.92 136.38 L390.99 138.31 L392.06 140.30 L393.13 142.33 L394.20 144.41 L395.27 146.53 L396.34 148.71 L397.40 150.93 L398.47 153.20 L399.54 155.51 L400.61 157.88 L401.68 160.30 L402.75 162.76 L403.82 165.28 L404.89 167.85 L405.96 170.46 L407.03 173.13 L408.10 175.84 L409.17 178.61 L410.24 181.43 L411.31 184.30 L412.38 187.22 L413.45 190.19 L414.52 193.21 L415.59 196.28 L416.66 199.40 L417.72 202.57 L418.79 205.79 L419.86 209.06 L420.93 212.38 L422.00 215.75 L423.07 219.17 L424.14 222.64 L425.21 226.15 L426.28 229.71 L427.35 233.32 L428.42 236.98 L429.49 240.68 L430.56 244.43 L431.63 248.22 L432.70 252.06 L433.77 255.94 L434.84 259.86 L435.91 263.82 L436.98 267.83 L438.05 271.87 L439.12 275.96 L440.18 280.08 L441.25 284.24 L442.32 288.44 L443.39 292.67 L444.46 296.94 L445.53 301.24 L446.60 305.57 L447.67 309.94 L448.74 314.33 L449.81 318.76 L450.88 323.21 L451.95 327.68 L453.02 332.19 L454.09 336.71 L455.16 341.26 L456.23 345.84 L457.30 350.43 L458.37 355.04 L459.44 359.66 L460.50 364.31 L461.57 368.96 L462.64 373.64 L463.71 378.32 L464.78 383.01 L465.85 387.71 L466.92 392.42 L467.99 397.14 L469.06 401.85 L470.13 406.58 L471.20 411.30" stroke="#E37222" stroke-width="3.6" stroke-linecap="round" stroke-dasharray="0 5" stroke-dashoffset="-1.1"/>
<path d="M42.95 93.42 L44.02 93.42 L45.09 93.43 L46.16 93.43 L47.23 93.44 L48.30 93.46 L49.37 93.47 L50.44 93.49 L51.51 93.52 L52.58 93.54 L53.65 93.57 L54.71 93.60 L55.78 93.64 L56.85 93.68 L57.92 93.72 L58.99 93.76 L60.06 93.81 L61.13 93.86 L62.20 93.92 L63.27 93.97 L64.34 94.03 L65.41 94.10 L66.48 94.16 L67.55 94.23 L68.62 94.30 L69.69 94.38 L70.76 94.46 L71.83 94.54 L72.90 94.63 L73.97 94.71 L75.03 94.80 L76.10 94.90 L77.17 95.00 L78.24 95.10 L79.31 95.20 L80.38 95.31 L81.45 95.42 L82.52 95.53 L83.59 95.65 L84.66 95.77 L85.73 95.89 L86.80 96.02 L87.87 96.15 L88.94 96.28 L90.01 96.42 L91.08 96.56 L92.15 96.70 L93.22 96.84 L94.29 96.99 L95.36 97.14 L96.43 97.30 L97.49 97.46 L98.56 97.62 L99.63 97.79 L100.70 97.96 L101.77 98.13 L102.84 98.30 L103.91 98.48 L104.98 98.66 L106.05 98.85 L107.12 99.04 L108.19 99.23 L109.26 99.43 L110.33 99.63 L111.40 99.83 L112.47 100.03 L113.54 100.24 L114.61 100.46 L115.68 100.67 L116.75 100.89 L117.82 101.12 L118.88 101.34 L119.95 101.57 L121.02 101.81 L122.09 102.04 L123.16 102.29 L124.23 102.53 L125.30 102.78 L126.37 103.03 L127.44 103.29 L128.51 103.54 L129.58 103.81 L130.65 104.07 L131.72 104.34 L132.79 104.62 L133.86 104.89 L134.93 105.18 L136.00 105.46 L137.07 105.75 L138.14 106.04 L139.21 106.34 L140.27 106.64 L141.34 106.94 L142.41 107.25 L143.48 107.56 L144.55 107.87 L145.62 108.19 L146.69 108.51 L147.76 108.84 L148.83 109.17 L149.90 109.50 L150.97 109.84 L152.04 110.18 L153.11 110.53 L154.18 110.88 L155.25 111.23 L156.32 111.59 L157.39 111.95 L158.46 112.32 L159.53 112.69 L160.60 113.06 L161.66 113.44 L162.73 113.82 L163.80 114.21 L164.87 114.60 L165.94 114.99 L167.01 115.39 L168.08 115.79 L169.15 116.20 L170.22 116.61 L171.29 117.02 L172.36 117.44 L173.43 117.87 L174.50 118.29 L175.57 118.73 L176.64 119.16 L177.71 119.60 L178.78 120.05 L179.85 120.49 L180.92 120.95 L181.99 121.41 L183.05 121.87 L184.12 122.33 L185.19 122.80 L186.26 123.28 L187.33 123.76 L188.40 124.24 L189.47 124.73 L190.54 125.22 L191.61 125.72 L192.68 126.22 L193.75 126.73 L194.82 127.24 L195.89 127.75 L196.96 128.27 L198.03 128.80 L199.10 129.33 L200.17 129.86 L201.24 130.40 L202.31 130.94 L203.38 131.49 L204.44 132.04 L205.51 132.59 L206.58 133.15 L207.65 133.72 L208.72 134.29 L209.79 134.87 L210.86 135.45 L211.93 136.03 L213.00 136.62 L214.07 137.21 L215.14 137.81 L216.21 138.41 L217.28 139.02 L218.35 139.64 L219.42 140.25 L220.49 140.88 L221.56 141.50 L222.63 142.14 L223.70 142.77 L224.76 143.41 L225.83 144.06 L226.90 144.71 L227.97 145.37 L229.04 146.03 L230.11 146.70 L231.18 147.37 L232.25 148.04 L233.32 148.73 L234.39 149.41 L235.46 150.10 L236.53 150.80 L237.60 151.50 L238.67 152.20 L239.74 152.92 L240.81 153.63 L241.88 154.35 L242.95 155.08 L244.02 155.81 L245.09 156.54 L246.16 157.29 L247.22 158.03 L248.29 158.78 L249.36 159.54 L250.43 160.30 L251.50 161.07 L252.57 161.84 L253.64 162.61 L254.71 163.40 L255.78 164.18 L256.85 164.97 L257.92 165.77 L258.99 166.57 L260.06 167.38 L261.13 168.19 L262.20 169.01 L263.27 169.83 L264.34 170.66 L265.41 171.49 L266.48 172.33 L267.55 173.17 L268.61 174.02 L269.68 174.87 L270.75 175.73 L271.82 176.59 L272.89 177.46 L273.96 178.34 L275.03 179.21 L276.10 180.10 L277.17 180.99 L278.24 181.88 L279.31 182.78 L280.38 183.69 L281.45 184.59 L282.52 185.51 L283.59 186.43 L284.66 187.35 L285.73 188.28 L286.80 189.22 L287.87 190.16 L288.94 191.10 L290.00 192.06 L291.07 193.01 L292.14 193.97 L293.21 194.94 L294.28 195.91 L295.35 196.88 L296.42 197.87 L297.49 198.85 L298.56 199.84 L299.63 200.84 L300.70 201.84 L301.77 202.85 L302.84 203.86 L303.91 204.88 L304.98 205.90 L306.05 206.92 L307.12 207.95 L308.19 208.99 L309.26 210.03 L310.32 211.08 L311.39 212.13 L312.46 213.19 L313.53 214.25 L314.60 215.31 L315.67 216.39 L316.74 217.46 L317.81 218.54 L318.88 219.63 L319.95 220.72 L321.02 221.82 L322.09 222.92 L323.16 224.02 L324.23 225.13 L325.30 226.25 L326.37 227.37 L327.44 228.49 L328.51 229.62 L329.58 230.75 L330.65 231.89 L331.72 233.04 L332.78 234.18 L333.85 235.34 L334.92 236.49 L335.99 237.66 L337.06 238.82 L338.13 239.99 L339.20 241.17 L340.27 242.35 L341.34 243.54 L342.41 244.73 L343.48 245.92 L344.55 247.12 L345.62 248.32 L346.69 249.53 L347.76 250.74 L348.83 251.96 L349.90 253.18 L350.97 254.40 L352.04 255.63 L353.10 256.86 L354.17 258.10 L355.24 259.34 L356.31 260.59 L357.38 261.84 L358.45 263.09 L359.52 264.35 L360.59 265.62 L361.66 266.88 L362.73 268.15 L363.80 269.43 L364.87 270.71 L365.94 271.99 L367.01 273.28 L368.08 274.57 L369.15 275.86 L370.22 277.16 L371.29 278.46 L372.36 279.77 L373.43 281.08 L374.50 282.39 L375.56 283.71 L376.63 285.03 L377.70 286.36 L378.77 287.69 L379.84 289.02 L380.91 290.35 L381.98 291.69 L383.05 293.04 L384.12 294.38 L385.19 295.73 L386.26 297.08 L387.33 298.44 L388.40 299.80 L389.47 301.16 L390.54 302.53 L391.61 303.90 L392.68 305.27 L393.75 306.65 L394.82 308.03 L395.89 309.41 L396.95 310.79 L398.02 312.18 L399.09 313.57 L400.16 314.96 L401.23 316.36 L402.30 317.76 L403.37 319.16 L404.44 320.57 L405.51 321.98 L406.58 323.39 L407.65 324.80 L408.72 326.21 L409.79 327.63 L410.86 329.05 L411.93 330.48 L413.00 331.90 L414.07 333.33 L415.14 334.76 L416.21 336.19 L417.27 337.63 L418.34 339.07 L419.41 340.51 L420.48 341.95 L421.55 343.39 L422.62 344.84 L423.69 346.29 L424.76 347.74 L425.83 349.19 L426.90 350.64 L427.97 352.10 L429.04 353.56 L430.11 355.02 L431.18 356.48 L432.25 357.94 L433.32 359.40 L434.39 360.87 L435.46 362.34 L436.53 363.81 L437.60 365.28 L438.67 366.75 L439.73 368.22 L440.80 369.70 L441.87 371.17 L442.94 372.65 L444.01 374.13 L445.08 375.61 L446.15 377.09 L447.22 378.57 L448.29 380.06 L449.36 381.54 L450.43 383.02 L451.50 384.51 L452.57 386.00 L453.64 387.48 L454.71 388.97 L455.78 390.46 L456.85 391.95 L457.92 393.44 L458.99 394.93 L460.06 396.42 L461.12 397.91 L462.19 399.40 L463.26 400.90 L464.33 402.39 L465.40 403.88 L466.47 405.38 L467.54 406.87 L468.61 408.36 L469.68 409.86 L470.75 411.35" stroke="#A2AD00" stroke-width="2.3"/>
<path d="M43.45 93.32 L44.52 93.32 L45.59 93.33 L46.66 93.33 L47.73 93.34 L48.80 93.36 L49.87 93.37 L50.94 93.39 L52.01 93.42 L53.08 93.44 L54.15 93.47 L55.21 93.50 L56.28 93.54 L57.35 93.58 L58.42 93.62 L59.49 93.66 L60.56 93.71 L61.63 93.76 L62.70 93.82 L63.77 93.87 L64.84 93.93 L65.91 94.00 L66.98 94.06 L68.05 94.13 L69.12 94.20 L70.19 94.28 L71.26 94.36 L72.33 94.44 L73.40 94.53 L74.47 94.61 L75.53 94.70 L76.60 94.80 L77.67 94.90 L78.74 95.00 L79.81 95.10 L80.88 95.21 L81.95 95.32 L83.02 95.43 L84.09 95.55 L85.16 95.67 L86.23 95.79 L87.30 95.92 L88.37 96.05 L89.44 96.18 L90.51 96.32 L91.58 96.46 L92.65 96.60 L93.72 96.74 L94.79 96.89 L95.86 97.04 L96.93 97.20 L97.99 97.36 L99.06 97.52 L100.13 97.69 L101.20 97.86 L102.27 98.03 L103.34 98.20 L104.41 98.38 L105.48 98.56 L106.55 98.75 L107.62 98.94 L108.69 99.13 L109.76 99.33 L110.83 99.53 L111.90 99.73 L112.97 99.93 L114.04 100.14 L115.11 100.36 L116.18 100.57 L117.25 100.79 L118.32 101.02 L119.38 101.24 L120.45 101.47 L121.52 101.71 L122.59 101.94 L123.66 102.19 L124.73 102.43 L125.80 102.68 L126.87 102.93 L127.94 103.19 L129.01 103.44 L130.08 103.71 L131.15 103.97 L132.22 104.24 L133.29 104.52 L134.36 104.79 L135.43 105.08 L136.50 105.36 L137.57 105.65 L138.64 105.94 L139.71 106.24 L140.77 106.54 L141.84 106.84 L142.91 107.15 L143.98 107.46 L145.05 107.77 L146.12 108.09 L147.19 108.41 L148.26 108.74 L149.33 109.07 L150.40 109.40 L151.47 109.74 L152.54 110.08 L153.61 110.43 L154.68 110.78 L155.75 111.13 L156.82 111.49 L157.89 111.85 L158.96 112.22 L160.03 112.59 L161.10 112.96 L162.16 113.34 L163.23 113.72 L164.30 114.11 L165.37 114.50 L166.44 114.89 L167.51 115.29 L168.58 115.69 L169.65 116.10 L170.72 116.51 L171.79 116.92 L172.86 117.34 L173.93 117.77 L175.00 118.19 L176.07 118.63 L177.14 119.06 L178.21 119.50 L179.28 119.95 L180.35 120.39 L181.42 120.85 L182.49 121.31 L183.55 121.77 L184.62 122.23 L185.69 122.70 L186.76 123.18 L187.83 123.66 L188.90 124.14 L189.97 124.63 L191.04 125.12 L192.11 125.62 L193.18 126.12 L194.25 126.63 L195.32 127.14 L196.39 127.65 L197.46 128.17 L198.53 128.70 L199.60 129.23 L200.67 129.76 L201.74 130.30 L202.81 130.84 L203.88 131.39 L204.94 131.94 L206.01 132.49 L207.08 133.05 L208.15 133.62 L209.22 134.19 L210.29 134.77 L211.36 135.35 L212.43 135.93 L213.50 136.52 L214.57 137.11 L215.64 137.71 L216.71 138.31 L217.78 138.92 L218.85 139.54 L219.92 140.15 L220.99 140.78 L222.06 141.40 L223.13 142.04 L224.20 142.67 L225.26 143.31 L226.33 143.96 L227.40 144.61 L228.47 145.27 L229.54 145.93 L230.61 146.60 L231.68 147.27 L232.75 147.94 L233.82 148.63 L234.89 149.31 L235.96 150.00 L237.03 150.70 L238.10 151.40 L239.17 152.10 L240.24 152.82 L241.31 153.53 L242.38 154.25 L243.45 154.98 L244.52 155.71 L245.59 156.44 L246.66 157.19 L247.72 157.93 L248.79 158.68 L249.86 159.44 L250.93 160.20 L252.00 160.97 L253.07 161.74 L254.14 162.51 L255.21 163.30 L256.28 164.08 L257.35 164.87 L258.42 165.67 L259.49 166.47 L260.56 167.28 L261.63 168.09 L262.70 168.91 L263.77 169.73 L264.84 170.56 L265.91 171.39 L266.98 172.23 L268.05 173.07 L269.11 173.92 L270.18 174.77 L271.25 175.63 L272.32 176.49 L273.39 177.36 L274.46 178.24 L275.53 179.11 L276.60 180.00 L277.67 180.89 L278.74 181.78 L279.81 182.68 L280.88 183.59 L281.95 184.49 L283.02 185.41 L284.09 186.33 L285.16 187.25 L286.23 188.18 L287.30 189.12 L288.37 190.06 L289.44 191.00 L290.50 191.96 L291.57 192.91 L292.64 193.87 L293.71 194.84 L294.78 195.81 L295.85 196.78 L296.92 197.77 L297.99 198.75 L299.06 199.74 L300.13 200.74 L301.20 201.74 L302.27 202.75 L303.34 203.76 L304.41 204.78 L305.48 205.80 L306.55 206.82 L307.62 207.85 L308.69 208.89 L309.76 209.93 L310.82 210.98 L311.89 212.03 L312.96 213.09 L314.03 214.15 L315.10 215.21 L316.17 216.29 L317.24 217.36 L318.31 218.44 L319.38 219.53 L320.45 220.62 L321.52 221.72 L322.59 222.82 L323.66 223.92 L324.73 225.03 L325.80 226.15 L326.87 227.27 L327.94 228.39 L329.01 229.52 L330.08 230.65 L331.15 231.79 L332.22 232.94 L333.28 234.08 L334.35 235.24 L335.42 236.39 L336.49 237.56 L337.56 238.72 L338.63 239.89 L339.70 241.07 L340.77 242.25 L341.84 243.44 L342.91 244.63 L343.98 245.82 L345.05 247.02 L346.12 248.22 L347.19 249.43 L348.26 250.64 L349.33 251.86 L350.40 253.08 L351.47 254.30 L352.54 255.53 L353.60 256.76 L354.67 258.00 L355.74 259.24 L356.81 260.49 L357.88 261.74 L358.95 262.99 L360.02 264.25 L361.09 265.52 L362.16 266.78 L363.23 268.05 L364.30 269.33 L365.37 270.61 L366.44 271.89 L367.51 273.18 L368.58 274.47 L369.65 275.76 L370.72 277.06 L371.79 278.36 L372.86 279.67 L373.93 280.98 L375.00 282.29 L376.06 283.61 L377.13 284.93 L378.20 286.26 L379.27 287.59 L380.34 288.92 L381.41 290.25 L382.48 291.59 L383.55 292.94 L384.62 294.28 L385.69 295.63 L386.76 296.98 L387.83 298.34 L388.90 299.70 L389.97 301.06 L391.04 302.43 L392.11 303.80 L393.18 305.17 L394.25 306.55 L395.32 307.93 L396.39 309.31 L397.45 310.69 L398.52 312.08 L399.59 313.47 L400.66 314.86 L401.73 316.26 L402.80 317.66 L403.87 319.06 L404.94 320.47 L406.01 321.88 L407.08 323.29 L408.15 324.70 L409.22 326.11 L410.29 327.53 L411.36 328.95 L412.43 330.38 L413.50 331.80 L414.57 333.23 L415.64 334.66 L416.71 336.09 L417.77 337.53 L418.84 338.97 L419.91 340.41 L420.98 341.85 L422.05 343.29 L423.12 344.74 L424.19 346.19 L425.26 347.64 L426.33 349.09 L427.40 350.54 L428.47 352.00 L429.54 353.46 L430.61 354.92 L431.68 356.38 L432.75 357.84 L433.82 359.30 L434.89 360.77 L435.96 362.24 L437.03 363.71 L438.10 365.18 L439.17 366.65 L440.23 368.12 L441.30 369.60 L442.37 371.07 L443.44 372.55 L444.51 374.03 L445.58 375.51 L446.65 376.99 L447.72 378.47 L448.79 379.96 L449.86 381.44 L450.93 382.92 L452.00 384.41 L453.07 385.90 L454.14 387.38 L455.21 388.87 L456.28 390.36 L457.35 391.85 L458.42 393.34 L459.49 394.83 L460.56 396.32 L461.62 397.81 L462.69 399.30 L463.76 400.80 L464.83 402.29 L465.90 403.78 L466.97 405.28 L468.04 406.77 L469.11 408.26 L470.18 409.76 L471.25 411.25" stroke="#A2AD00" stroke-width="3.6" stroke-linecap="round" stroke-dasharray="0 5" stroke-dashoffset="-1.1"/>
<path d="M43.00 182.04 L44.07 182.04 L45.14 182.04 L46.21 182.05 L47.28 182.07 L48.35 182.08 L49.42 182.10 L50.49 182.12 L51.56 182.15 L52.63 182.18 L53.70 182.21 L54.76 182.25 L55.83 182.29 L56.90 182.33 L57.97 182.38 L59.04 182.43 L60.11 182.48 L61.18 182.54 L62.25 182.60 L63.32 182.66 L64.39 182.73 L65.46 182.80 L66.53 182.88 L67.60 182.96 L68.67 183.04 L69.74 183.12 L70.81 183.21 L71.88 183.30 L72.95 183.40 L74.02 183.50 L75.08 183.60 L76.15 183.70 L77.22 183.81 L78.29 183.93 L79.36 184.04 L80.43 184.16 L81.50 184.28 L82.57 184.41 L83.64 184.54 L84.71 184.67 L85.78 184.81 L86.85 184.95 L87.92 185.09 L88.99 185.24 L90.06 185.39 L91.13 185.55 L92.20 185.70 L93.27 185.86 L94.34 186.03 L95.41 186.20 L96.48 186.37 L97.54 186.54 L98.61 186.72 L99.68 186.90 L100.75 187.08 L101.82 187.27 L102.89 187.46 L103.96 187.66 L105.03 187.86 L106.10 188.06 L107.17 188.26 L108.24 188.47 L109.31 188.68 L110.38 188.90 L111.45 189.12 L112.52 189.34 L113.59 189.57 L114.66 189.79 L115.73 190.03 L116.80 190.26 L117.87 190.50 L118.93 190.74 L120.00 190.99 L121.07 191.24 L122.14 191.49 L123.21 191.74 L124.28 192.00 L125.35 192.27 L126.42 192.53 L127.49 192.80 L128.56 193.07 L129.63 193.35 L130.70 193.63 L131.77 193.91 L132.84 194.20 L133.91 194.48 L134.98 194.78 L136.05 195.07 L137.12 195.37 L138.19 195.67 L139.26 195.98 L140.32 196.29 L141.39 196.60 L142.46 196.92 L143.53 197.23 L144.60 197.56 L145.67 197.88 L146.74 198.21 L147.81 198.54 L148.88 198.88 L149.95 199.21 L151.02 199.56 L152.09 199.90 L153.16 200.25 L154.23 200.60 L155.30 200.95 L156.37 201.31 L157.44 201.67 L158.51 202.04 L159.58 202.40 L160.65 202.77 L161.71 203.15 L162.78 203.52 L163.85 203.90 L164.92 204.29 L165.99 204.67 L167.06 205.06 L168.13 205.46 L169.20 205.85 L170.27 206.25 L171.34 206.65 L172.41 207.06 L173.48 207.47 L174.55 207.88 L175.62 208.29 L176.69 208.71 L177.76 209.13 L178.83 209.56 L179.90 209.98 L180.97 210.41 L182.04 210.85 L183.10 211.29 L184.17 211.72 L185.24 212.17 L186.31 212.61 L187.38 213.06 L188.45 213.51 L189.52 213.97 L190.59 214.43 L191.66 214.89 L192.73 215.35 L193.80 215.82 L194.87 216.29 L195.94 216.76 L197.01 217.24 L198.08 217.72 L199.15 218.20 L200.22 218.69 L201.29 219.17 L202.36 219.67 L203.43 220.16 L204.49 220.66 L205.56 221.16 L206.63 221.66 L207.70 222.17 L208.77 222.68 L209.84 223.19 L210.91 223.70 L211.98 224.22 L213.05 224.74 L214.12 225.26 L215.19 225.79 L216.26 226.32 L217.33 226.85 L218.40 227.39 L219.47 227.92 L220.54 228.47 L221.61 229.01 L222.68 229.56 L223.75 230.10 L224.81 230.66 L225.88 231.21 L226.95 231.77 L228.02 232.33 L229.09 232.89 L230.16 233.46 L231.23 234.03 L232.30 234.60 L233.37 235.17 L234.44 235.75 L235.51 236.33 L236.58 236.91 L237.65 237.50 L238.72 238.09 L239.79 238.68 L240.86 239.27 L241.93 239.87 L243.00 240.47 L244.07 241.07 L245.14 241.67 L246.21 242.28 L247.27 242.89 L248.34 243.50 L249.41 244.12 L250.48 244.74 L251.55 245.36 L252.62 245.98 L253.69 246.60 L254.76 247.23 L255.83 247.86 L256.90 248.50 L257.97 249.13 L259.04 249.77 L260.11 250.41 L261.18 251.05 L262.25 251.70 L263.32 252.35 L264.39 253.00 L265.46 253.65 L266.53 254.31 L267.60 254.97 L268.66 255.63 L269.73 256.29 L270.80 256.96 L271.87 257.62 L272.94 258.29 L274.01 258.97 L275.08 259.64 L276.15 260.32 L277.22 261.00 L278.29 261.68 L279.36 262.37 L280.43 263.06 L281.50 263.74 L282.57 264.44 L283.64 265.13 L284.71 265.83 L285.78 266.53 L286.85 267.23 L287.92 267.93 L288.99 268.64 L290.05 269.35 L291.12 270.06 L292.19 270.77 L293.26 271.48 L294.33 272.20 L295.40 272.92 L296.47 273.64 L297.54 274.36 L298.61 275.09 L299.68 275.82 L300.75 276.55 L301.82 277.28 L302.89 278.01 L303.96 278.75 L305.03 279.49 L306.10 280.23 L307.17 280.97 L308.24 281.72 L309.31 282.47 L310.38 283.21 L311.44 283.97 L312.51 284.72 L313.58 285.47 L314.65 286.23 L315.72 286.99 L316.79 287.75 L317.86 288.51 L318.93 289.28 L320.00 290.05 L321.07 290.82 L322.14 291.59 L323.21 292.36 L324.28 293.13 L325.35 293.91 L326.42 294.69 L327.49 295.47 L328.56 296.25 L329.63 297.04 L330.70 297.82 L331.77 298.61 L332.83 299.40 L333.90 300.19 L334.97 300.98 L336.04 301.78 L337.11 302.58 L338.18 303.37 L339.25 304.17 L340.32 304.98 L341.39 305.78 L342.46 306.59 L343.53 307.39 L344.60 308.20 L345.67 309.01 L346.74 309.82 L347.81 310.64 L348.88 311.45 L349.95 312.27 L351.02 313.09 L352.09 313.91 L353.15 314.73 L354.22 315.55 L355.29 316.38 L356.36 317.20 L357.43 318.03 L358.50 318.86 L359.57 319.69 L360.64 320.52 L361.71 321.36 L362.78 322.19 L363.85 323.03 L364.92 323.87 L365.99 324.71 L367.06 325.55 L368.13 326.39 L369.20 327.23 L370.27 328.08 L371.34 328.93 L372.41 329.77 L373.48 330.62 L374.55 331.47 L375.61 332.32 L376.68 333.18 L377.75 334.03 L378.82 334.89 L379.89 335.74 L380.96 336.60 L382.03 337.46 L383.10 338.32 L384.17 339.18 L385.24 340.04 L386.31 340.91 L387.38 341.77 L388.45 342.64 L389.52 343.51 L390.59 344.38 L391.66 345.24 L392.73 346.11 L393.80 346.99 L394.87 347.86 L395.94 348.73 L397.00 349.61 L398.07 350.48 L399.14 351.36 L400.21 352.24 L401.28 353.12 L402.35 354.00 L403.42 354.88 L404.49 355.76 L405.56 356.64 L406.63 357.52 L407.70 358.41 L408.77 359.29 L409.84 360.18 L410.91 361.06 L411.98 361.95 L413.05 362.84 L414.12 363.73 L415.19 364.62 L416.26 365.51 L417.32 366.40 L418.39 367.29 L419.46 368.19 L420.53 369.08 L421.60 369.97 L422.67 370.87 L423.74 371.76 L424.81 372.66 L425.88 373.56 L426.95 374.45 L428.02 375.35 L429.09 376.25 L430.16 377.15 L431.23 378.05 L432.30 378.95 L433.37 379.85 L434.44 380.75 L435.51 381.65 L436.58 382.56 L437.65 383.46 L438.72 384.36 L439.78 385.27 L440.85 386.17 L441.92 387.07 L442.99 387.98 L444.06 388.88 L445.13 389.79 L446.20 390.70 L447.27 391.60 L448.34 392.51 L449.41 393.42 L450.48 394.32 L451.55 395.23 L452.62 396.14 L453.69 397.05 L454.76 397.96 L455.83 398.86 L456.90 399.77 L457.97 400.68 L459.04 401.59 L460.11 402.50 L461.17 403.41 L462.24 404.32 L463.31 405.23 L464.38 406.14 L465.45 407.05 L466.52 407.96 L467.59 408.87 L468.66 409.78 L469.73 410.69 L470.80 411.60" stroke="#000000" stroke-width="2.3"/>
<path d="M43.35 181.44 L44.42 181.44 L45.49 181.44 L46.56 181.45 L47.63 181.47 L48.70 181.48 L49.77 181.50 L50.84 181.52 L51.91 181.55 L52.98 181.58 L54.05 181.61 L55.11 181.65 L56.18 181.69 L57.25 181.73 L58.32 181.78 L59.39 181.83 L60.46 181.88 L61.53 181.94 L62.60 182.00 L63.67 182.06 L64.74 182.13 L65.81 182.20 L66.88 182.28 L67.95 182.36 L69.02 182.44 L70.09 182.52 L71.16 182.61 L72.23 182.70 L73.30 182.80 L74.37 182.90 L75.44 183.00 L76.50 183.10 L77.57 183.21 L78.64 183.33 L79.71 183.44 L80.78 183.56 L81.85 183.68 L82.92 183.81 L83.99 183.94 L85.06 184.07 L86.13 184.21 L87.20 184.35 L88.27 184.49 L89.34 184.64 L90.41 184.79 L91.48 184.95 L92.55 185.10 L93.62 185.26 L94.69 185.43 L95.76 185.60 L96.83 185.77 L97.89 185.94 L98.96 186.12 L100.03 186.30 L101.10 186.48 L102.17 186.67 L103.24 186.86 L104.31 187.06 L105.38 187.26 L106.45 187.46 L107.52 187.66 L108.59 187.87 L109.66 188.08 L110.73 188.30 L111.80 188.52 L112.87 188.74 L113.94 188.97 L115.01 189.19 L116.08 189.43 L117.15 189.66 L118.22 189.90 L119.28 190.14 L120.35 190.39 L121.42 190.64 L122.49 190.89 L123.56 191.14 L124.63 191.40 L125.70 191.67 L126.77 191.93 L127.84 192.20 L128.91 192.47 L129.98 192.75 L131.05 193.03 L132.12 193.31 L133.19 193.60 L134.26 193.88 L135.33 194.18 L136.40 194.47 L137.47 194.77 L138.54 195.07 L139.61 195.38 L140.67 195.69 L141.74 196.00 L142.81 196.32 L143.88 196.63 L144.95 196.96 L146.02 197.28 L147.09 197.61 L148.16 197.94 L149.23 198.28 L150.30 198.61 L151.37 198.96 L152.44 199.30 L153.51 199.65 L154.58 200.00 L155.65 200.35 L156.72 200.71 L157.79 201.07 L158.86 201.44 L159.93 201.80 L161.00 202.17 L162.06 202.55 L163.13 202.92 L164.20 203.30 L165.27 203.69 L166.34 204.07 L167.41 204.46 L168.48 204.86 L169.55 205.25 L170.62 205.65 L171.69 206.05 L172.76 206.46 L173.83 206.87 L174.90 207.28 L175.97 207.69 L177.04 208.11 L178.11 208.53 L179.18 208.96 L180.25 209.38 L181.32 209.81 L182.39 210.25 L183.45 210.69 L184.52 211.12 L185.59 211.57 L186.66 212.01 L187.73 212.46 L188.80 212.91 L189.87 213.37 L190.94 213.83 L192.01 214.29 L193.08 214.75 L194.15 215.22 L195.22 215.69 L196.29 216.16 L197.36 216.64 L198.43 217.12 L199.50 217.60 L200.57 218.09 L201.64 218.57 L202.71 219.07 L203.78 219.56 L204.84 220.06 L205.91 220.56 L206.98 221.06 L208.05 221.57 L209.12 222.08 L210.19 222.59 L211.26 223.10 L212.33 223.62 L213.40 224.14 L214.47 224.66 L215.54 225.19 L216.61 225.72 L217.68 226.25 L218.75 226.79 L219.82 227.32 L220.89 227.87 L221.96 228.41 L223.03 228.96 L224.10 229.50 L225.16 230.06 L226.23 230.61 L227.30 231.17 L228.37 231.73 L229.44 232.29 L230.51 232.86 L231.58 233.43 L232.65 234.00 L233.72 234.57 L234.79 235.15 L235.86 235.73 L236.93 236.31 L238.00 236.90 L239.07 237.49 L240.14 238.08 L241.21 238.67 L242.28 239.27 L243.35 239.87 L244.42 240.47 L245.49 241.07 L246.56 241.68 L247.62 242.29 L248.69 242.90 L249.76 243.52 L250.83 244.14 L251.90 244.76 L252.97 245.38 L254.04 246.00 L255.11 246.63 L256.18 247.26 L257.25 247.90 L258.32 248.53 L259.39 249.17 L260.46 249.81 L261.53 250.45 L262.60 251.10 L263.67 251.75 L264.74 252.40 L265.81 253.05 L266.88 253.71 L267.94 254.37 L269.01 255.03 L270.08 255.69 L271.15 256.36 L272.22 257.02 L273.29 257.69 L274.36 258.37 L275.43 259.04 L276.50 259.72 L277.57 260.40 L278.64 261.08 L279.71 261.77 L280.78 262.46 L281.85 263.14 L282.92 263.84 L283.99 264.53 L285.06 265.23 L286.13 265.93 L287.20 266.63 L288.27 267.33 L289.34 268.04 L290.40 268.75 L291.47 269.46 L292.54 270.17 L293.61 270.88 L294.68 271.60 L295.75 272.32 L296.82 273.04 L297.89 273.76 L298.96 274.49 L300.03 275.22 L301.10 275.95 L302.17 276.68 L303.24 277.41 L304.31 278.15 L305.38 278.89 L306.45 279.63 L307.52 280.37 L308.59 281.12 L309.66 281.87 L310.72 282.61 L311.79 283.37 L312.86 284.12 L313.93 284.87 L315.00 285.63 L316.07 286.39 L317.14 287.15 L318.21 287.91 L319.28 288.68 L320.35 289.45 L321.42 290.22 L322.49 290.99 L323.56 291.76 L324.63 292.53 L325.70 293.31 L326.77 294.09 L327.84 294.87 L328.91 295.65 L329.98 296.44 L331.05 297.22 L332.12 298.01 L333.18 298.80 L334.25 299.59 L335.32 300.38 L336.39 301.18 L337.46 301.98 L338.53 302.77 L339.60 303.57 L340.67 304.38 L341.74 305.18 L342.81 305.99 L343.88 306.79 L344.95 307.60 L346.02 308.41 L347.09 309.22 L348.16 310.04 L349.23 310.85 L350.30 311.67 L351.37 312.49 L352.44 313.31 L353.50 314.13 L354.57 314.95 L355.64 315.78 L356.71 316.60 L357.78 317.43 L358.85 318.26 L359.92 319.09 L360.99 319.92 L362.06 320.76 L363.13 321.59 L364.20 322.43 L365.27 323.27 L366.34 324.11 L367.41 324.95 L368.48 325.79 L369.55 326.63 L370.62 327.48 L371.69 328.33 L372.76 329.17 L373.83 330.02 L374.89 330.87 L375.96 331.72 L377.03 332.58 L378.10 333.43 L379.17 334.29 L380.24 335.14 L381.31 336.00 L382.38 336.86 L383.45 337.72 L384.52 338.58 L385.59 339.44 L386.66 340.31 L387.73 341.17 L388.80 342.04 L389.87 342.91 L390.94 343.78 L392.01 344.64 L393.08 345.51 L394.15 346.39 L395.22 347.26 L396.29 348.13 L397.35 349.01 L398.42 349.88 L399.49 350.76 L400.56 351.64 L401.63 352.52 L402.70 353.40 L403.77 354.28 L404.84 355.16 L405.91 356.04 L406.98 356.92 L408.05 357.81 L409.12 358.69 L410.19 359.58 L411.26 360.46 L412.33 361.35 L413.40 362.24 L414.47 363.13 L415.54 364.02 L416.61 364.91 L417.67 365.80 L418.74 366.69 L419.81 367.59 L420.88 368.48 L421.95 369.37 L423.02 370.27 L424.09 371.16 L425.16 372.06 L426.23 372.96 L427.30 373.85 L428.37 374.75 L429.44 375.65 L430.51 376.55 L431.58 377.45 L432.65 378.35 L433.72 379.25 L434.79 380.15 L435.86 381.05 L436.93 381.96 L438.00 382.86 L439.06 383.76 L440.13 384.67 L441.20 385.57 L442.27 386.47 L443.34 387.38 L444.41 388.28 L445.48 389.19 L446.55 390.10 L447.62 391.00 L448.69 391.91 L449.76 392.82 L450.83 393.72 L451.90 394.63 L452.97 395.54 L454.04 396.45 L455.11 397.36 L456.18 398.26 L457.25 399.17 L458.32 400.08 L459.39 400.99 L460.45 401.90 L461.52 402.81 L462.59 403.72 L463.66 404.63 L464.73 405.54 L465.80 406.45 L466.87 407.36 L467.94 408.27 L469.01 409.18 L470.08 410.09 L471.15 411.00" stroke="#000000" stroke-width="3.6" stroke-linecap="round" stroke-dasharray="0 5" stroke-dashoffset="-1.1"/>
<path d="M43.20 287.47 L44.27 287.47 L45.34 287.48 L46.41 287.48 L47.48 287.49 L48.55 287.50 L49.62 287.51 L50.69 287.52 L51.76 287.53 L52.83 287.55 L53.90 287.57 L54.96 287.59 L56.03 287.61 L57.10 287.64 L58.17 287.66 L59.24 287.69 L60.31 287.72 L61.38 287.75 L62.45 287.78 L63.52 287.82 L64.59 287.86 L65.66 287.90 L66.73 287.94 L67.80 287.98 L68.87 288.02 L69.94 288.07 L71.01 288.12 L72.08 288.17 L73.15 288.22 L74.22 288.28 L75.28 288.33 L76.35 288.39 L77.42 288.45 L78.49 288.51 L79.56 288.58 L80.63 288.64 L81.70 288.71 L82.77 288.78 L83.84 288.85 L84.91 288.93 L85.98 289.00 L87.05 289.08 L88.12 289.16 L89.19 289.24 L90.26 289.32 L91.33 289.41 L92.40 289.49 L93.47 289.58 L94.54 289.67 L95.61 289.76 L96.68 289.86 L97.74 289.96 L98.81 290.05 L99.88 290.15 L100.95 290.25 L102.02 290.36 L103.09 290.46 L104.16 290.57 L105.23 290.68 L106.30 290.79 L107.37 290.90 L108.44 291.02 L109.51 291.14 L110.58 291.25 L111.65 291.37 L112.72 291.50 L113.79 291.62 L114.86 291.75 L115.93 291.87 L117.00 292.00 L118.07 292.13 L119.13 292.27 L120.20 292.40 L121.27 292.54 L122.34 292.68 L123.41 292.82 L124.48 292.96 L125.55 293.11 L126.62 293.25 L127.69 293.40 L128.76 293.55 L129.83 293.70 L130.90 293.86 L131.97 294.01 L133.04 294.17 L134.11 294.33 L135.18 294.49 L136.25 294.65 L137.32 294.81 L138.39 294.98 L139.46 295.15 L140.52 295.32 L141.59 295.49 L142.66 295.66 L143.73 295.84 L144.80 296.01 L145.87 296.19 L146.94 296.37 L148.01 296.55 L149.08 296.74 L150.15 296.92 L151.22 297.11 L152.29 297.30 L153.36 297.49 L154.43 297.68 L155.50 297.88 L156.57 298.08 L157.64 298.27 L158.71 298.47 L159.78 298.68 L160.85 298.88 L161.91 299.08 L162.98 299.29 L164.05 299.50 L165.12 299.71 L166.19 299.92 L167.26 300.13 L168.33 300.35 L169.40 300.57 L170.47 300.79 L171.54 301.01 L172.61 301.23 L173.68 301.45 L174.75 301.68 L175.82 301.91 L176.89 302.13 L177.96 302.36 L179.03 302.60 L180.10 302.83 L181.17 303.07 L182.24 303.30 L183.30 303.54 L184.37 303.78 L185.44 304.03 L186.51 304.27 L187.58 304.52 L188.65 304.76 L189.72 305.01 L190.79 305.26 L191.86 305.52 L192.93 305.77 L194.00 306.03 L195.07 306.28 L196.14 306.54 L197.21 306.80 L198.28 307.06 L199.35 307.33 L200.42 307.59 L201.49 307.86 L202.56 308.13 L203.62 308.40 L204.69 308.67 L205.76 308.94 L206.83 309.22 L207.90 309.49 L208.97 309.77 L210.04 310.05 L211.11 310.33 L212.18 310.62 L213.25 310.90 L214.32 311.19 L215.39 311.47 L216.46 311.76 L217.53 312.05 L218.60 312.35 L219.67 312.64 L220.74 312.93 L221.81 313.23 L222.88 313.53 L223.95 313.83 L225.01 314.13 L226.08 314.43 L227.15 314.74 L228.22 315.04 L229.29 315.35 L230.36 315.66 L231.43 315.97 L232.50 316.28 L233.57 316.59 L234.64 316.91 L235.71 317.22 L236.78 317.54 L237.85 317.86 L238.92 318.18 L239.99 318.50 L241.06 318.82 L242.13 319.15 L243.20 319.47 L244.27 319.80 L245.34 320.13 L246.41 320.46 L247.47 320.79 L248.54 321.13 L249.61 321.46 L250.68 321.80 L251.75 322.13 L252.82 322.47 L253.89 322.81 L254.96 323.15 L256.03 323.50 L257.10 323.84 L258.17 324.19 L259.24 324.53 L260.31 324.88 L261.38 325.23 L262.45 325.58 L263.52 325.93 L264.59 326.29 L265.66 326.64 L266.73 327.00 L267.80 327.36 L268.86 327.71 L269.93 328.07 L271.00 328.44 L272.07 328.80 L273.14 329.16 L274.21 329.53 L275.28 329.89 L276.35 330.26 L277.42 330.63 L278.49 331.00 L279.56 331.37 L280.63 331.74 L281.70 332.12 L282.77 332.49 L283.84 332.87 L284.91 333.25 L285.98 333.63 L287.05 334.01 L288.12 334.39 L289.19 334.77 L290.25 335.15 L291.32 335.54 L292.39 335.92 L293.46 336.31 L294.53 336.70 L295.60 337.09 L296.67 337.48 L297.74 337.87 L298.81 338.26 L299.88 338.66 L300.95 339.05 L302.02 339.45 L303.09 339.85 L304.16 340.24 L305.23 340.64 L306.30 341.04 L307.37 341.45 L308.44 341.85 L309.51 342.25 L310.57 342.66 L311.64 343.06 L312.71 343.47 L313.78 343.88 L314.85 344.29 L315.92 344.70 L316.99 345.11 L318.06 345.52 L319.13 345.94 L320.20 346.35 L321.27 346.76 L322.34 347.18 L323.41 347.60 L324.48 348.02 L325.55 348.44 L326.62 348.86 L327.69 349.28 L328.76 349.70 L329.83 350.12 L330.90 350.55 L331.97 350.97 L333.03 351.40 L334.10 351.82 L335.17 352.25 L336.24 352.68 L337.31 353.11 L338.38 353.54 L339.45 353.97 L340.52 354.40 L341.59 354.84 L342.66 355.27 L343.73 355.71 L344.80 356.14 L345.87 356.58 L346.94 357.02 L348.01 357.46 L349.08 357.89 L350.15 358.33 L351.22 358.78 L352.29 359.22 L353.35 359.66 L354.42 360.10 L355.49 360.55 L356.56 360.99 L357.63 361.44 L358.70 361.88 L359.77 362.33 L360.84 362.78 L361.91 363.23 L362.98 363.68 L364.05 364.13 L365.12 364.58 L366.19 365.03 L367.26 365.48 L368.33 365.93 L369.40 366.39 L370.47 366.84 L371.54 367.30 L372.61 367.75 L373.68 368.21 L374.75 368.67 L375.81 369.13 L376.88 369.58 L377.95 370.04 L379.02 370.50 L380.09 370.96 L381.16 371.42 L382.23 371.89 L383.30 372.35 L384.37 372.81 L385.44 373.27 L386.51 373.74 L387.58 374.20 L388.65 374.67 L389.72 375.13 L390.79 375.60 L391.86 376.07 L392.93 376.54 L394.00 377.00 L395.07 377.47 L396.14 377.94 L397.20 378.41 L398.27 378.88 L399.34 379.35 L400.41 379.82 L401.48 380.29 L402.55 380.77 L403.62 381.24 L404.69 381.71 L405.76 382.19 L406.83 382.66 L407.90 383.13 L408.97 383.61 L410.04 384.08 L411.11 384.56 L412.18 385.04 L413.25 385.51 L414.32 385.99 L415.39 386.47 L416.46 386.94 L417.52 387.42 L418.59 387.90 L419.66 388.38 L420.73 388.86 L421.80 389.34 L422.87 389.82 L423.94 390.30 L425.01 390.78 L426.08 391.26 L427.15 391.74 L428.22 392.22 L429.29 392.70 L430.36 393.19 L431.43 393.67 L432.50 394.15 L433.57 394.64 L434.64 395.12 L435.71 395.60 L436.78 396.09 L437.85 396.57 L438.92 397.05 L439.98 397.54 L441.05 398.02 L442.12 398.51 L443.19 398.99 L444.26 399.48 L445.33 399.96 L446.40 400.45 L447.47 400.93 L448.54 401.42 L449.61 401.91 L450.68 402.39 L451.75 402.88 L452.82 403.37 L453.89 403.85 L454.96 404.34 L456.03 404.83 L457.10 405.31 L458.17 405.80 L459.24 406.29 L460.31 406.77 L461.37 407.26 L462.44 407.75 L463.51 408.24 L464.58 408.72 L465.65 409.21 L466.72 409.70 L467.79 410.19 L468.86 410.67 L469.93 411.16 L471.00 411.65" stroke="#808080" stroke-width="2.3"/>
<path d="M43.20 286.77 L44.27 286.77 L45.34 286.78 L46.41 286.78 L47.48 286.79 L48.55 286.80 L49.62 286.81 L50.69 286.82 L51.76 286.83 L52.83 286.85 L53.90 286.87 L54.96 286.89 L56.03 286.91 L57.10 286.94 L58.17 286.96 L59.24 286.99 L60.31 287.02 L61.38 287.05 L62.45 287.08 L63.52 287.12 L64.59 287.16 L65.66 287.20 L66.73 287.24 L67.80 287.28 L68.87 287.32 L69.94 287.37 L71.01 287.42 L72.08 287.47 L73.15 287.52 L74.22 287.58 L75.28 287.63 L76.35 287.69 L77.42 287.75 L78.49 287.81 L79.56 287.88 L80.63 287.94 L81.70 288.01 L82.77 288.08 L83.84 288.15 L84.91 288.23 L85.98 288.30 L87.05 288.38 L88.12 288.46 L89.19 288.54 L90.26 288.62 L91.33 288.71 L92.40 288.79 L93.47 288.88 L94.54 288.97 L95.61 289.06 L96.68 289.16 L97.74 289.26 L98.81 289.35 L99.88 289.45 L100.95 289.55 L102.02 289.66 L103.09 289.76 L104.16 289.87 L105.23 289.98 L106.30 290.09 L107.37 290.20 L108.44 290.32 L109.51 290.44 L110.58 290.55 L111.65 290.67 L112.72 290.80 L113.79 290.92 L114.86 291.05 L115.93 291.17 L117.00 291.30 L118.07 291.43 L119.13 291.57 L120.20 291.70 L121.27 291.84 L122.34 291.98 L123.41 292.12 L124.48 292.26 L125.55 292.41 L126.62 292.55 L127.69 292.70 L128.76 292.85 L129.83 293.00 L130.90 293.16 L131.97 293.31 L133.04 293.47 L134.11 293.63 L135.18 293.79 L136.25 293.95 L137.32 294.11 L138.39 294.28 L139.46 294.45 L140.52 294.62 L141.59 294.79 L142.66 294.96 L143.73 295.14 L144.80 295.31 L145.87 295.49 L146.94 295.67 L148.01 295.85 L149.08 296.04 L150.15 296.22 L151.22 296.41 L152.29 296.60 L153.36 296.79 L154.43 296.98 L155.50 297.18 L156.57 297.38 L157.64 297.57 L158.71 297.77 L159.78 297.98 L160.85 298.18 L161.91 298.38 L162.98 298.59 L164.05 298.80 L165.12 299.01 L166.19 299.22 L167.26 299.43 L168.33 299.65 L169.40 299.87 L170.47 300.09 L171.54 300.31 L172.61 300.53 L173.68 300.75 L174.75 300.98 L175.82 301.21 L176.89 301.43 L177.96 301.66 L179.03 301.90 L180.10 302.13 L181.17 302.37 L182.24 302.60 L183.30 302.84 L184.37 303.08 L185.44 303.33 L186.51 303.57 L187.58 303.82 L188.65 304.06 L189.72 304.31 L190.79 304.56 L191.86 304.82 L192.93 305.07 L194.00 305.33 L195.07 305.58 L196.14 305.84 L197.21 306.10 L198.28 306.36 L199.35 306.63 L200.42 306.89 L201.49 307.16 L202.56 307.43 L203.62 307.70 L204.69 307.97 L205.76 308.24 L206.83 308.52 L207.90 308.79 L208.97 309.07 L210.04 309.35 L211.11 309.63 L212.18 309.92 L213.25 310.20 L214.32 310.49 L215.39 310.77 L216.46 311.06 L217.53 311.35 L218.60 311.65 L219.67 311.94 L220.74 312.23 L221.81 312.53 L222.88 312.83 L223.95 313.13 L225.01 313.43 L226.08 313.73 L227.15 314.04 L228.22 314.34 L229.29 314.65 L230.36 314.96 L231.43 315.27 L232.50 315.58 L233.57 315.89 L234.64 316.21 L235.71 316.52 L236.78 316.84 L237.85 317.16 L238.92 317.48 L239.99 317.80 L241.06 318.12 L242.13 318.45 L243.20 318.77 L244.27 319.10 L245.34 319.43 L246.41 319.76 L247.47 320.09 L248.54 320.43 L249.61 320.76 L250.68 321.10 L251.75 321.43 L252.82 321.77 L253.89 322.11 L254.96 322.45 L256.03 322.80 L257.10 323.14 L258.17 323.49 L259.24 323.83 L260.31 324.18 L261.38 324.53 L262.45 324.88 L263.52 325.23 L264.59 325.59 L265.66 325.94 L266.73 326.30 L267.80 326.66 L268.86 327.01 L269.93 327.37 L271.00 327.74 L272.07 328.10 L273.14 328.46 L274.21 328.83 L275.28 329.19 L276.35 329.56 L277.42 329.93 L278.49 330.30 L279.56 330.67 L280.63 331.04 L281.70 331.42 L282.77 331.79 L283.84 332.17 L284.91 332.55 L285.98 332.93 L287.05 333.31 L288.12 333.69 L289.19 334.07 L290.25 334.45 L291.32 334.84 L292.39 335.22 L293.46 335.61 L294.53 336.00 L295.60 336.39 L296.67 336.78 L297.74 337.17 L298.81 337.56 L299.88 337.96 L300.95 338.35 L302.02 338.75 L303.09 339.15 L304.16 339.54 L305.23 339.94 L306.30 340.34 L307.37 340.75 L308.44 341.15 L309.51 341.55 L310.57 341.96 L311.64 342.36 L312.71 342.77 L313.78 343.18 L314.85 343.59 L315.92 344.00 L316.99 344.41 L318.06 344.82 L319.13 345.24 L320.20 345.65 L321.27 346.06 L322.34 346.48 L323.41 346.90 L324.48 347.32 L325.55 347.74 L326.62 348.16 L327.69 348.58 L328.76 349.00 L329.83 349.42 L330.90 349.85 L331.97 350.27 L333.03 350.70 L334.10 351.12 L335.17 351.55 L336.24 351.98 L337.31 352.41 L338.38 352.84 L339.45 353.27 L340.52 353.70 L341.59 354.14 L342.66 354.57 L343.73 355.01 L344.80 355.44 L345.87 355.88 L346.94 356.32 L348.01 356.76 L349.08 357.19 L350.15 357.63 L351.22 358.08 L352.29 358.52 L353.35 358.96 L354.42 359.40 L355.49 359.85 L356.56 360.29 L357.63 360.74 L358.70 361.18 L359.77 361.63 L360.84 362.08 L361.91 362.53 L362.98 362.98 L364.05 363.43 L365.12 363.88 L366.19 364.33 L367.26 364.78 L368.33 365.23 L369.40 365.69 L370.47 366.14 L371.54 366.60 L372.61 367.05 L373.68 367.51 L374.75 367.97 L375.81 368.43 L376.88 368.88 L377.95 369.34 L379.02 369.80 L380.09 370.26 L381.16 370.72 L382.23 371.19 L383.30 371.65 L384.37 372.11 L385.44 372.57 L386.51 373.04 L387.58 373.50 L388.65 373.97 L389.72 374.43 L390.79 374.90 L391.86 375.37 L392.93 375.84 L394.00 376.30 L395.07 376.77 L396.14 377.24 L397.20 377.71 L398.27 378.18 L399.34 378.65 L400.41 379.12 L401.48 379.59 L402.55 380.07 L403.62 380.54 L404.69 381.01 L405.76 381.49 L406.83 381.96 L407.90 382.43 L408.97 382.91 L410.04 383.38 L411.11 383.86 L412.18 384.34 L413.25 384.81 L414.32 385.29 L415.39 385.77 L416.46 386.24 L417.52 386.72 L418.59 387.20 L419.66 387.68 L420.73 388.16 L421.80 388.64 L422.87 389.12 L423.94 389.60 L425.01 390.08 L426.08 390.56 L427.15 391.04 L428.22 391.52 L429.29 392.00 L430.36 392.49 L431.43 392.97 L432.50 393.45 L433.57 393.94 L434.64 394.42 L435.71 394.90 L436.78 395.39 L437.85 395.87 L438.92 396.35 L439.98 396.84 L441.05 397.32 L442.12 397.81 L443.19 398.29 L444.26 398.78 L445.33 399.26 L446.40 399.75 L447.47 400.23 L448.54 400.72 L449.61 401.21 L450.68 401.69 L451.75 402.18 L452.82 402.67 L453.89 403.15 L454.96 403.64 L456.03 404.13 L457.10 404.61 L458.17 405.10 L459.24 405.59 L460.31 406.07 L461.37 406.56 L462.44 407.05 L463.51 407.54 L464.58 408.02 L465.65 408.51 L466.72 409.00 L467.79 409.49 L468.86 409.97 L469.93 410.46 L471.00 410.95" stroke="#808080" stroke-width="3.6" stroke-linecap="round" stroke-dasharray="0 5" stroke-dashoffset="-1.1"/>
<path d="M43.20 375.49 L44.27 375.49 L45.34 375.49 L46.41 375.49 L47.48 375.49 L48.55 375.49 L49.62 375.50 L50.69 375.50 L51.76 375.51 L52.83 375.51 L53.90 375.52 L54.96 375.52 L56.03 375.53 L57.10 375.53 L58.17 375.54 L59.24 375.55 L60.31 375.56 L61.38 375.57 L62.45 375.58 L63.52 375.59 L64.59 375.60 L65.66 375.61 L66.73 375.62 L67.80 375.63 L68.87 375.65 L69.94 375.66 L71.01 375.68 L72.08 375.69 L73.15 375.71 L74.22 375.72 L75.28 375.74 L76.35 375.76 L77.42 375.77 L78.49 375.79 L79.56 375.81 L80.63 375.83 L81.70 375.85 L82.77 375.87 L83.84 375.89 L84.91 375.91 L85.98 375.93 L87.05 375.96 L88.12 375.98 L89.19 376.00 L90.26 376.03 L91.33 376.05 L92.40 376.08 L93.47 376.10 L94.54 376.13 L95.61 376.15 L96.68 376.18 L97.74 376.21 L98.81 376.24 L99.88 376.27 L100.95 376.30 L102.02 376.33 L103.09 376.36 L104.16 376.39 L105.23 376.42 L106.30 376.45 L107.37 376.49 L108.44 376.52 L109.51 376.55 L110.58 376.59 L111.65 376.62 L112.72 376.66 L113.79 376.70 L114.86 376.73 L115.93 376.77 L117.00 376.81 L118.07 376.85 L119.13 376.88 L120.20 376.92 L121.27 376.96 L122.34 377.00 L123.41 377.04 L124.48 377.09 L125.55 377.13 L126.62 377.17 L127.69 377.21 L128.76 377.26 L129.83 377.30 L130.90 377.35 L131.97 377.39 L133.04 377.44 L134.11 377.48 L135.18 377.53 L136.25 377.58 L137.32 377.63 L138.39 377.67 L139.46 377.72 L140.52 377.77 L141.59 377.82 L142.66 377.87 L143.73 377.92 L144.80 377.97 L145.87 378.03 L146.94 378.08 L148.01 378.13 L149.08 378.19 L150.15 378.24 L151.22 378.29 L152.29 378.35 L153.36 378.41 L154.43 378.46 L155.50 378.52 L156.57 378.58 L157.64 378.63 L158.71 378.69 L159.78 378.75 L160.85 378.81 L161.91 378.87 L162.98 378.93 L164.05 378.99 L165.12 379.05 L166.19 379.11 L167.26 379.18 L168.33 379.24 L169.40 379.30 L170.47 379.36 L171.54 379.43 L172.61 379.49 L173.68 379.56 L174.75 379.62 L175.82 379.69 L176.89 379.76 L177.96 379.82 L179.03 379.89 L180.10 379.96 L181.17 380.03 L182.24 380.10 L183.30 380.17 L184.37 380.24 L185.44 380.31 L186.51 380.38 L187.58 380.45 L188.65 380.52 L189.72 380.60 L190.79 380.67 L191.86 380.74 L192.93 380.82 L194.00 380.89 L195.07 380.97 L196.14 381.04 L197.21 381.12 L198.28 381.19 L199.35 381.27 L200.42 381.35 L201.49 381.43 L202.56 381.50 L203.62 381.58 L204.69 381.66 L205.76 381.74 L206.83 381.82 L207.90 381.90 L208.97 381.98 L210.04 382.06 L211.11 382.15 L212.18 382.23 L213.25 382.31 L214.32 382.39 L215.39 382.48 L216.46 382.56 L217.53 382.65 L218.60 382.73 L219.67 382.82 L220.74 382.90 L221.81 382.99 L222.88 383.08 L223.95 383.16 L225.01 383.25 L226.08 383.34 L227.15 383.43 L228.22 383.52 L229.29 383.61 L230.36 383.70 L231.43 383.79 L232.50 383.88 L233.57 383.97 L234.64 384.06 L235.71 384.15 L236.78 384.24 L237.85 384.34 L238.92 384.43 L239.99 384.52 L241.06 384.62 L242.13 384.71 L243.20 384.81 L244.27 384.90 L245.34 385.00 L246.41 385.10 L247.47 385.19 L248.54 385.29 L249.61 385.39 L250.68 385.48 L251.75 385.58 L252.82 385.68 L253.89 385.78 L254.96 385.88 L256.03 385.98 L257.10 386.08 L258.17 386.18 L259.24 386.28 L260.31 386.38 L261.38 386.48 L262.45 386.59 L263.52 386.69 L264.59 386.79 L265.66 386.90 L266.73 387.00 L267.80 387.10 L268.86 387.21 L269.93 387.31 L271.00 387.42 L272.07 387.52 L273.14 387.63 L274.21 387.74 L275.28 387.84 L276.35 387.95 L277.42 388.06 L278.49 388.16 L279.56 388.27 L280.63 388.38 L281.70 388.49 L282.77 388.60 L283.84 388.71 L284.91 388.82 L285.98 388.93 L287.05 389.04 L288.12 389.15 L289.19 389.26 L290.25 389.37 L291.32 389.49 L292.39 389.60 L293.46 389.71 L294.53 389.82 L295.60 389.94 L296.67 390.05 L297.74 390.17 L298.81 390.28 L299.88 390.39 L300.95 390.51 L302.02 390.62 L303.09 390.74 L304.16 390.86 L305.23 390.97 L306.30 391.09 L307.37 391.21 L308.44 391.32 L309.51 391.44 L310.57 391.56 L311.64 391.68 L312.71 391.80 L313.78 391.91 L314.85 392.03 L315.92 392.15 L316.99 392.27 L318.06 392.39 L319.13 392.51 L320.20 392.63 L321.27 392.76 L322.34 392.88 L323.41 393.00 L324.48 393.12 L325.55 393.24 L326.62 393.36 L327.69 393.49 L328.76 393.61 L329.83 393.73 L330.90 393.86 L331.97 393.98 L333.03 394.10 L334.10 394.23 L335.17 394.35 L336.24 394.48 L337.31 394.60 L338.38 394.73 L339.45 394.85 L340.52 394.98 L341.59 395.11 L342.66 395.23 L343.73 395.36 L344.80 395.49 L345.87 395.61 L346.94 395.74 L348.01 395.87 L349.08 396.00 L350.15 396.12 L351.22 396.25 L352.29 396.38 L353.35 396.51 L354.42 396.64 L355.49 396.77 L356.56 396.90 L357.63 397.03 L358.70 397.16 L359.77 397.29 L360.84 397.42 L361.91 397.55 L362.98 397.68 L364.05 397.81 L365.12 397.94 L366.19 398.07 L367.26 398.21 L368.33 398.34 L369.40 398.47 L370.47 398.60 L371.54 398.73 L372.61 398.87 L373.68 399.00 L374.75 399.13 L375.81 399.27 L376.88 399.40 L377.95 399.53 L379.02 399.67 L380.09 399.80 L381.16 399.94 L382.23 400.07 L383.30 400.21 L384.37 400.34 L385.44 400.48 L386.51 400.61 L387.58 400.75 L388.65 400.88 L389.72 401.02 L390.79 401.15 L391.86 401.29 L392.93 401.42 L394.00 401.56 L395.07 401.70 L396.14 401.83 L397.20 401.97 L398.27 402.11 L399.34 402.24 L400.41 402.38 L401.48 402.52 L402.55 402.66 L403.62 402.79 L404.69 402.93 L405.76 403.07 L406.83 403.21 L407.90 403.35 L408.97 403.48 L410.04 403.62 L411.11 403.76 L412.18 403.90 L413.25 404.04 L414.32 404.18 L415.39 404.32 L416.46 404.46 L417.52 404.60 L418.59 404.73 L419.66 404.87 L420.73 405.01 L421.80 405.15 L422.87 405.29 L423.94 405.43 L425.01 405.57 L426.08 405.71 L427.15 405.85 L428.22 405.99 L429.29 406.13 L430.36 406.27 L431.43 406.41 L432.50 406.55 L433.57 406.70 L434.64 406.84 L435.71 406.98 L436.78 407.12 L437.85 407.26 L438.92 407.40 L439.98 407.54 L441.05 407.68 L442.12 407.82 L443.19 407.96 L444.26 408.11 L445.33 408.25 L446.40 408.39 L447.47 408.53 L448.54 408.67 L449.61 408.81 L450.68 408.95 L451.75 409.10 L452.82 409.24 L453.89 409.38 L454.96 409.52 L456.03 409.66 L457.10 409.80 L458.17 409.95 L459.24 410.09 L460.31 410.23 L461.37 410.37 L462.44 410.51 L463.51 410.66 L464.58 410.80 L465.65 410.94 L466.72 411.08 L467.79 411.22 L468.86 411.37 L469.93 411.51 L471.00 411.65" stroke="#64A0C8" stroke-width="2.3"/>
<path d="M43.20 374.79 L44.27 374.79 L45.34 374.79 L46.41 374.79 L47.48 374.79 L48.55 374.79 L49.62 374.80 L50.69 374.80 L51.76 374.81 L52.83 374.81 L53.90 374.82 L54.96 374.82 L56.03 374.83 L57.10 374.83 L58.17 374.84 L59.24 374.85 L60.31 374.86 L61.38 374.87 L62.45 374.88 L63.52 374.89 L64.59 374.90 L65.66 374.91 L66.73 374.92 L67.80 374.93 L68.87 374.95 L69.94 374.96 L71.01 374.98 L72.08 374.99 L73.15 375.01 L74.22 375.02 L75.28 375.04 L76.35 375.06 L77.42 375.07 L78.49 375.09 L79.56 375.11 L80.63 375.13 L81.70 375.15 L82.77 375.17 L83.84 375.19 L84.91 375.21 L85.98 375.23 L87.05 375.26 L88.12 375.28 L89.19 375.30 L90.26 375.33 L91.33 375.35 L92.40 375.38 L93.47 375.40 L94.54 375.43 L95.61 375.45 L96.68 375.48 L97.74 375.51 L98.81 375.54 L99.88 375.57 L100.95 375.60 L102.02 375.63 L103.09 375.66 L104.16 375.69 L105.23 375.72 L106.30 375.75 L107.37 375.79 L108.44 375.82 L109.51 375.85 L110.58 375.89 L111.65 375.92 L112.72 375.96 L113.79 376.00 L114.86 376.03 L115.93 376.07 L117.00 376.11 L118.07 376.15 L119.13 376.18 L120.20 376.22 L121.27 376.26 L122.34 376.30 L123.41 376.34 L124.48 376.39 L125.55 376.43 L126.62 376.47 L127.69 376.51 L128.76 376.56 L129.83 376.60 L130.90 376.65 L131.97 376.69 L133.04 376.74 L134.11 376.78 L135.18 376.83 L136.25 376.88 L137.32 376.93 L138.39 376.97 L139.46 377.02 L140.52 377.07 L141.59 377.12 L142.66 377.17 L143.73 377.22 L144.80 377.27 L145.87 377.33 L146.94 377.38 L148.01 377.43 L149.08 377.49 L150.15 377.54 L151.22 377.59 L152.29 377.65 L153.36 377.71 L154.43 377.76 L155.50 377.82 L156.57 377.88 L157.64 377.93 L158.71 377.99 L159.78 378.05 L160.85 378.11 L161.91 378.17 L162.98 378.23 L164.05 378.29 L165.12 378.35 L166.19 378.41 L167.26 378.48 L168.33 378.54 L169.40 378.60 L170.47 378.66 L171.54 378.73 L172.61 378.79 L173.68 378.86 L174.75 378.92 L175.82 378.99 L176.89 379.06 L177.96 379.12 L179.03 379.19 L180.10 379.26 L181.17 379.33 L182.24 379.40 L183.30 379.47 L184.37 379.54 L185.44 379.61 L186.51 379.68 L187.58 379.75 L188.65 379.82 L189.72 379.90 L190.79 379.97 L191.86 380.04 L192.93 380.12 L194.00 380.19 L195.07 380.27 L196.14 380.34 L197.21 380.42 L198.28 380.49 L199.35 380.57 L200.42 380.65 L201.49 380.73 L202.56 380.80 L203.62 380.88 L204.69 380.96 L205.76 381.04 L206.83 381.12 L207.90 381.20 L208.97 381.28 L210.04 381.36 L211.11 381.45 L212.18 381.53 L213.25 381.61 L214.32 381.69 L215.39 381.78 L216.46 381.86 L217.53 381.95 L218.60 382.03 L219.67 382.12 L220.74 382.20 L221.81 382.29 L222.88 382.38 L223.95 382.46 L225.01 382.55 L226.08 382.64 L227.15 382.73 L228.22 382.82 L229.29 382.91 L230.36 383.00 L231.43 383.09 L232.50 383.18 L233.57 383.27 L234.64 383.36 L235.71 383.45 L236.78 383.54 L237.85 383.64 L238.92 383.73 L239.99 383.82 L241.06 383.92 L242.13 384.01 L243.20 384.11 L244.27 384.20 L245.34 384.30 L246.41 384.40 L247.47 384.49 L248.54 384.59 L249.61 384.69 L250.68 384.78 L251.75 384.88 L252.82 384.98 L253.89 385.08 L254.96 385.18 L256.03 385.28 L257.10 385.38 L258.17 385.48 L259.24 385.58 L260.31 385.68 L261.38 385.78 L262.45 385.89 L263.52 385.99 L264.59 386.09 L265.66 386.20 L266.73 386.30 L267.80 386.40 L268.86 386.51 L269.93 386.61 L271.00 386.72 L272.07 386.82 L273.14 386.93 L274.21 387.04 L275.28 387.14 L276.35 387.25 L277.42 387.36 L278.49 387.46 L279.56 387.57 L280.63 387.68 L281.70 387.79 L282.77 387.90 L283.84 388.01 L284.91 388.12 L285.98 388.23 L287.05 388.34 L288.12 388.45 L289.19 388.56 L290.25 388.67 L291.32 388.79 L292.39 388.90 L293.46 389.01 L294.53 389.12 L295.60 389.24 L296.67 389.35 L297.74 389.47 L298.81 389.58 L299.88 389.69 L300.95 389.81 L302.02 389.92 L303.09 390.04 L304.16 390.16 L305.23 390.27 L306.30 390.39 L307.37 390.51 L308.44 390.62 L309.51 390.74 L310.57 390.86 L311.64 390.98 L312.71 391.10 L313.78 391.21 L314.85 391.33 L315.92 391.45 L316.99 391.57 L318.06 391.69 L319.13 391.81 L320.20 391.93 L321.27 392.06 L322.34 392.18 L323.41 392.30 L324.48 392.42 L325.55 392.54 L326.62 392.66 L327.69 392.79 L328.76 392.91 L329.83 393.03 L330.90 393.16 L331.97 393.28 L333.03 393.40 L334.10 393.53 L335.17 393.65 L336.24 393.78 L337.31 393.90 L338.38 394.03 L339.45 394.15 L340.52 394.28 L341.59 394.41 L342.66 394.53 L343.73 394.66 L344.80 394.79 L345.87 394.91 L346.94 395.04 L348.01 395.17 L349.08 395.30 L350.15 395.42 L351.22 395.55 L352.29 395.68 L353.35 395.81 L354.42 395.94 L355.49 396.07 L356.56 396.20 L357.63 396.33 L358.70 396.46 L359.77 396.59 L360.84 396.72 L361.91 396.85 L362.98 396.98 L364.05 397.11 L365.12 397.24 L366.19 397.37 L367.26 397.51 L368.33 397.64 L369.40 397.77 L370.47 397.90 L371.54 398.03 L372.61 398.17 L373.68 398.30 L374.75 398.43 L375.81 398.57 L376.88 398.70 L377.95 398.83 L379.02 398.97 L380.09 399.10 L381.16 399.24 L382.23 399.37 L383.30 399.51 L384.37 399.64 L385.44 399.78 L386.51 399.91 L387.58 400.05 L388.65 400.18 L389.72 400.32 L390.79 400.45 L391.86 400.59 L392.93 400.72 L394.00 400.86 L395.07 401.00 L396.14 401.13 L397.20 401.27 L398.27 401.41 L399.34 401.54 L400.41 401.68 L401.48 401.82 L402.55 401.96 L403.62 402.09 L404.69 402.23 L405.76 402.37 L406.83 402.51 L407.90 402.65 L408.97 402.78 L410.04 402.92 L411.11 403.06 L412.18 403.20 L413.25 403.34 L414.32 403.48 L415.39 403.62 L416.46 403.76 L417.52 403.90 L418.59 404.03 L419.66 404.17 L420.73 404.31 L421.80 404.45 L422.87 404.59 L423.94 404.73 L425.01 404.87 L426.08 405.01 L427.15 405.15 L428.22 405.29 L429.29 405.43 L430.36 405.57 L431.43 405.71 L432.50 405.85 L433.57 406.00 L434.64 406.14 L435.71 406.28 L436.78 406.42 L437.85 406.56 L438.92 406.70 L439.98 406.84 L441.05 406.98 L442.12 407.12 L443.19 407.26 L444.26 407.41 L445.33 407.55 L446.40 407.69 L447.47 407.83 L448.54 407.97 L449.61 408.11 L450.68 408.25 L451.75 408.40 L452.82 408.54 L453.89 408.68 L454.96 408.82 L456.03 408.96 L457.10 409.10 L458.17 409.25 L459.24 409.39 L460.31 409.53 L461.37 409.67 L462.44 409.81 L463.51 409.96 L464.58 410.10 L465.65 410.24 L466.72 410.38 L467.79 410.52 L468.86 410.67 L469.93 410.81 L471.00 410.95" stroke="#64A0C8" stroke-width="3.6" stroke-linecap="round" stroke-dasharray="0 5" stroke-dashoffset="-1.1"/>
</g>
<text transform="translate(33.50,418.25) scale(0.955,1)" font-size="20.60" text-anchor="end" fill="#000">0</text>
<text transform="translate(33.50,351.27) scale(0.955,1)" font-size="20.60" text-anchor="end" fill="#000">0.2</text>
<text transform="translate(33.50,284.29) scale(0.955,1)" font-size="20.60" text-anchor="end" fill="#000">0.4</text>
<text transform="translate(33.50,217.30) scale(0.955,1)" font-size="20.60" text-anchor="end" fill="#000">0.6</text>
<text transform="translate(33.50,150.32) scale(0.955,1)" font-size="20.60" text-anchor="end" fill="#000">0.8</text>
<text transform="translate(33.50,83.34) scale(0.955,1)" font-size="20.60" text-anchor="end" fill="#000">1</text>
<text transform="translate(43.50,434.20) scale(0.955,1)" font-size="20.60" text-anchor="middle" fill="#000">0</text>
<text transform="translate(129.06,434.20) scale(0.955,1)" font-size="20.60" text-anchor="middle" fill="#000">0.2</text>
<text transform="translate(214.62,434.20) scale(0.955,1)" font-size="20.60" text-anchor="middle" fill="#000">0.4</text>
<text transform="translate(300.18,434.20) scale(0.955,1)" font-size="20.60" text-anchor="middle" fill="#000">0.6</text>
<text transform="translate(385.74,434.20) scale(0.955,1)" font-size="20.60" text-anchor="middle" fill="#000">0.8</text>
<text transform="translate(471.30,434.20) scale(0.955,1)" font-size="20.60" text-anchor="middle" fill="#000">1</text>
<text y="24.50" font-size="21" fill="#000"><tspan x="189.7" letter-spacing="0.42">Pressure</tspan><tspan x="271.3" font-style="italic">p</tspan><tspan x="282.9">(</tspan><tspan x="289.6" font-style="italic">t</tspan><tspan x="295.6">,</tspan><tspan x="305.0" font-style="italic" font-weight="bold" textLength="11.6" lengthAdjust="spacingAndGlyphs">x</tspan><tspan x="317.9">)</tspan></text>
<text y="459.5" font-size="19" fill="#000"><tspan x="220.8" letter-spacing="-0.22">Height</tspan><tspan x="277.0" font-style="italic" textLength="9.6" lengthAdjust="spacingAndGlyphs">x</tspan><tspan x="286.6" font-size="14" dy="4.3">2</tspan></text>
<text y="69.10" font-size="18.90" fill="#0065BD"><tspan x="357.70" font-style="italic">t</tspan><tspan x="369.40" dy="1.7" textLength="11.7" lengthAdjust="spacingAndGlyphs" stroke="#0065BD" stroke-width="0.2">=</tspan><tspan x="386.90" dy="-1.7">0.001</tspan></text>
<text y="122.70" font-size="18.90" fill="#E37222"><tspan x="302.50" font-style="italic">t</tspan><tspan x="314.20" dy="1.7" textLength="11.7" lengthAdjust="spacingAndGlyphs" stroke="#E37222" stroke-width="0.2">=</tspan><tspan x="331.70" dy="-1.7">0.01</tspan></text>
<text y="122.70" font-size="18.90" fill="#A2AD00"><tspan x="59.20" font-style="italic">t</tspan><tspan x="70.90" dy="1.7" textLength="11.7" lengthAdjust="spacingAndGlyphs" stroke="#A2AD00" stroke-width="0.2">=</tspan><tspan x="88.40" dy="-1.7">0.1</tspan></text>
<text y="216.90" font-size="18.90" fill="#000000"><tspan x="58.90" font-style="italic">t</tspan><tspan x="70.60" dy="1.7" textLength="11.7" lengthAdjust="spacingAndGlyphs" stroke="#000000" stroke-width="0.2">=</tspan><tspan x="88.10" dy="-1.7">0.25</tspan></text>
<text y="313.60" font-size="18.90" fill="#808080"><tspan x="59.20" font-style="italic">t</tspan><tspan x="70.90" dy="1.7" textLength="11.7" lengthAdjust="spacingAndGlyphs" stroke="#808080" stroke-width="0.2">=</tspan><tspan x="88.40" dy="-1.7">0.5</tspan></text>
<text y="397.60" font-size="18.90" fill="#64A0C8"><tspan x="59.50" font-style="italic">t</tspan><tspan x="71.20" dy="1.7" textLength="11.7" lengthAdjust="spacingAndGlyphs" stroke="#64A0C8" stroke-width="0.2">=</tspan><tspan x="88.70" dy="-1.7">1.0</tspan></text>
</svg></body></html>
